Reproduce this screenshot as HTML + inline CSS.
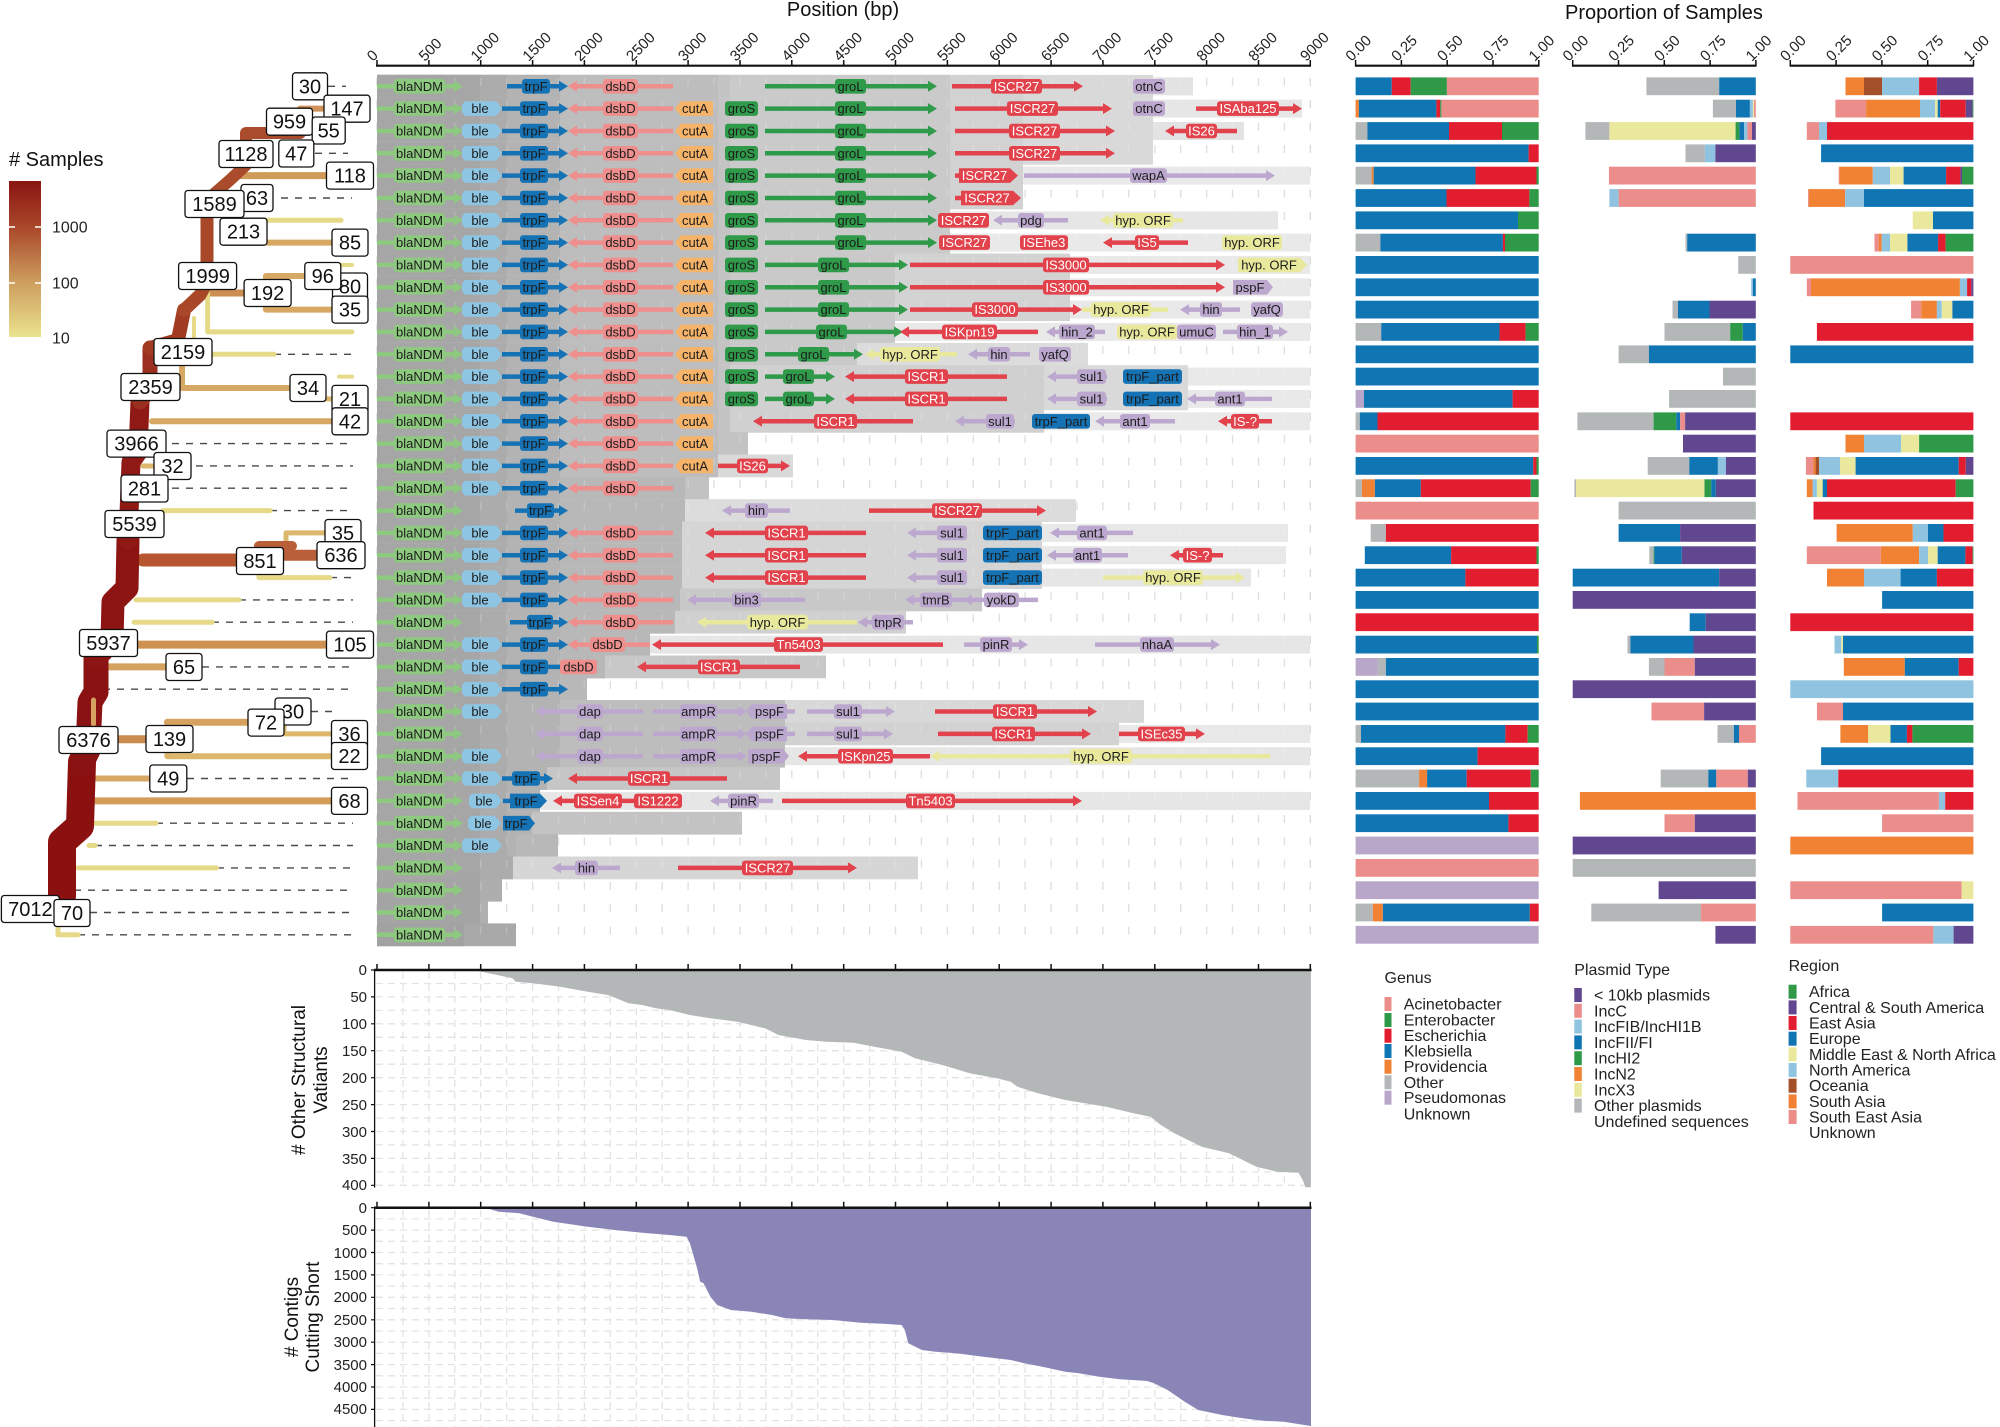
<!DOCTYPE html>
<html><head><meta charset="utf-8"><title>blaNDM structural variants</title>
<style>
html,body{margin:0;padding:0;background:#fff}
svg{display:block;font-family:"Liberation Sans",Arial,sans-serif}
.gn path{fill:none;stroke:currentColor;stroke-width:4.5}
.gn polygon,.gn rect{fill:currentColor;stroke:none}
.gn text{font-size:13px;text-anchor:middle;fill:#1c1c1c}
.gn .cr text{fill:#fff}
.cg{color:#8DC97F}.cb{color:#8EC5E3}.ct{color:#1573B5}.cd{color:#EE8F8D}.cc{color:#F6B46B}
.cG{color:#2F9A49}.cr{color:#E2424B}.cy{color:#E9E99D}.cp{color:#BCA8CE}
.kA{fill:#EB8D8B}.kE{fill:#2E9A48}.kR{fill:#E31D30}.kB{fill:#0F75B3}.kO{fill:#F18133}
.kG{fill:#B4B7B8}.kP{fill:#B9A7CA}.kV{fill:#61478F}.kL{fill:#8FC3DF}.kY{fill:#E9E89C}.kN{fill:#A34F2A}
.bars rect{height:17.8px}
.tb rect{fill:#fff;stroke:#111;stroke-width:1.3}
.tb text{font-size:20px;text-anchor:middle;fill:#111}
.tk text{font-size:15px;fill:#222}
.lg text{font-size:16px;fill:#222}
.tr path{fill:none;stroke-linecap:round;stroke-linejoin:round}
.ds path{fill:none;stroke:#4a4a4a;stroke-width:1.4;stroke-dasharray:7 7}
</style></head>
<body>
<svg width="2000" height="1427" viewBox="0 0 2000 1427" xmlns="http://www.w3.org/2000/svg">
<defs>
<linearGradient id="cbar" x1="0" y1="0" x2="0" y2="1">
<stop offset="0" stop-color="#8A1512"/><stop offset="0.3" stop-color="#A9482A"/><stop offset="0.65" stop-color="#CE9E5E"/><stop offset="1" stop-color="#EAE38E"/>
</linearGradient>
</defs>

<!-- Titles -->
<text x="843" y="16" font-size="20" text-anchor="middle" fill="#111">Position (bp)</text>
<text x="1664" y="19" font-size="20" text-anchor="middle" fill="#111">Proportion of Samples</text>

<!-- Gene panel gridlines (under) -->
<path stroke="#D8D8D8" stroke-width="1.3" stroke-dasharray="8 14.33" fill="none" d="M377 78V945M402.9 78V945M428.9 78V945M454.8 78V945M480.7 78V945M506.6 78V945M532.6 78V945M558.5 78V945M584.4 78V945M610.3 78V945M636.3 78V945M662.2 78V945M688.1 78V945M714 78V945M740 78V945M765.9 78V945M791.8 78V945M817.7 78V945M843.7 78V945M869.6 78V945M895.5 78V945M921.4 78V945M947.4 78V945M973.3 78V945M999.2 78V945M1025.1 78V945M1051.1 78V945M1077 78V945M1102.9 78V945M1128.8 78V945M1154.8 78V945M1180.7 78V945M1206.6 78V945M1232.5 78V945M1258.5 78V945M1284.4 78V945M1310.3 78V945"/>

<!-- Row backgrounds -->
<g>
<g transform="translate(0,86.3)"><rect x="377" y="-9" width="816" height="18" fill="#E3E3E3"/><rect x="377" y="-11.4" width="776" height="22.8" fill="#D9D9D9"/><rect x="377" y="-11.4" width="646" height="22.8" fill="#D2D2D2"/><rect x="377" y="-11.4" width="573" height="22.8" fill="#CACACA"/><rect x="377" y="-11.4" width="353" height="22.8" fill="#C4C4C4"/><rect x="377" y="-11.4" width="341" height="22.8" fill="#BDBDBD"/><rect x="377" y="-11.4" width="183" height="22.8" fill="#B3B3B3"/><rect x="377" y="-11.4" width="130" height="22.8" fill="#ACACAC"/><rect x="377" y="-11.4" width="103" height="22.8" fill="#A6A6A6"/></g>
<g transform="translate(0,108.6)"><rect x="377" y="-9" width="925" height="18" fill="#E6E6E6"/><rect x="377" y="-11.4" width="776" height="22.8" fill="#D9D9D9"/><rect x="377" y="-11.4" width="646" height="22.8" fill="#D2D2D2"/><rect x="377" y="-11.4" width="573" height="22.8" fill="#CACACA"/><rect x="377" y="-11.4" width="353" height="22.8" fill="#C4C4C4"/><rect x="377" y="-11.4" width="341" height="22.8" fill="#BDBDBD"/><rect x="377" y="-11.4" width="183" height="22.8" fill="#B3B3B3"/><rect x="377" y="-11.4" width="130" height="22.8" fill="#ACACAC"/><rect x="377" y="-11.4" width="103" height="22.8" fill="#A6A6A6"/></g>
<g transform="translate(0,131)"><rect x="377" y="-9" width="867" height="18" fill="#E3E3E3"/><rect x="377" y="-11.4" width="776" height="22.8" fill="#D9D9D9"/><rect x="377" y="-11.4" width="646" height="22.8" fill="#D2D2D2"/><rect x="377" y="-11.4" width="573" height="22.8" fill="#CACACA"/><rect x="377" y="-11.4" width="353" height="22.8" fill="#C4C4C4"/><rect x="377" y="-11.4" width="341" height="22.8" fill="#BDBDBD"/><rect x="377" y="-11.4" width="183" height="22.8" fill="#B3B3B3"/><rect x="377" y="-11.4" width="130" height="22.8" fill="#ACACAC"/><rect x="377" y="-11.4" width="103" height="22.8" fill="#A6A6A6"/></g>
<g transform="translate(0,153.3)"><rect x="377" y="-11.4" width="776" height="22.8" fill="#D9D9D9"/><rect x="377" y="-11.4" width="646" height="22.8" fill="#D2D2D2"/><rect x="377" y="-11.4" width="573" height="22.8" fill="#CACACA"/><rect x="377" y="-11.4" width="353" height="22.8" fill="#C4C4C4"/><rect x="377" y="-11.4" width="341" height="22.8" fill="#BDBDBD"/><rect x="377" y="-11.4" width="183" height="22.8" fill="#B3B3B3"/><rect x="377" y="-11.4" width="130" height="22.8" fill="#ACACAC"/><rect x="377" y="-11.4" width="103" height="22.8" fill="#A6A6A6"/></g>
<g transform="translate(0,175.6)"><rect x="377" y="-9" width="933" height="18" fill="#E9E9E9"/><rect x="377" y="-11.4" width="646" height="22.8" fill="#D2D2D2"/><rect x="377" y="-11.4" width="573" height="22.8" fill="#CACACA"/><rect x="377" y="-11.4" width="353" height="22.8" fill="#C4C4C4"/><rect x="377" y="-11.4" width="341" height="22.8" fill="#BDBDBD"/><rect x="377" y="-11.4" width="183" height="22.8" fill="#B3B3B3"/><rect x="377" y="-11.4" width="130" height="22.8" fill="#ACACAC"/><rect x="377" y="-11.4" width="103" height="22.8" fill="#A6A6A6"/></g>
<g transform="translate(0,198)"><rect x="377" y="-11.4" width="646" height="22.8" fill="#D2D2D2"/><rect x="377" y="-11.4" width="573" height="22.8" fill="#CACACA"/><rect x="377" y="-11.4" width="353" height="22.8" fill="#C4C4C4"/><rect x="377" y="-11.4" width="341" height="22.8" fill="#BDBDBD"/><rect x="377" y="-11.4" width="183" height="22.8" fill="#B3B3B3"/><rect x="377" y="-11.4" width="130" height="22.8" fill="#ACACAC"/><rect x="377" y="-11.4" width="103" height="22.8" fill="#A6A6A6"/></g>
<g transform="translate(0,220.3)"><rect x="377" y="-9" width="901" height="18" fill="#E6E6E6"/><rect x="377" y="-11.4" width="573" height="22.8" fill="#CACACA"/><rect x="377" y="-11.4" width="353" height="22.8" fill="#C4C4C4"/><rect x="377" y="-11.4" width="341" height="22.8" fill="#BDBDBD"/><rect x="377" y="-11.4" width="183" height="22.8" fill="#B3B3B3"/><rect x="377" y="-11.4" width="130" height="22.8" fill="#ACACAC"/><rect x="377" y="-11.4" width="103" height="22.8" fill="#A6A6A6"/></g>
<g transform="translate(0,242.6)"><rect x="377" y="-9" width="933" height="18" fill="#E9E9E9"/><rect x="377" y="-11.4" width="573" height="22.8" fill="#CACACA"/><rect x="377" y="-11.4" width="353" height="22.8" fill="#C4C4C4"/><rect x="377" y="-11.4" width="341" height="22.8" fill="#BDBDBD"/><rect x="377" y="-11.4" width="183" height="22.8" fill="#B3B3B3"/><rect x="377" y="-11.4" width="130" height="22.8" fill="#ACACAC"/><rect x="377" y="-11.4" width="103" height="22.8" fill="#A6A6A6"/></g>
<g transform="translate(0,264.9)"><rect x="377" y="-9" width="933" height="18" fill="#E9E9E9"/><rect x="377" y="-11.4" width="693" height="22.8" fill="#D3D3D3"/><rect x="377" y="-11.4" width="518" height="22.8" fill="#C9C9C9"/><rect x="377" y="-11.4" width="353" height="22.8" fill="#C4C4C4"/><rect x="377" y="-11.4" width="341" height="22.8" fill="#BDBDBD"/><rect x="377" y="-11.4" width="183" height="22.8" fill="#B3B3B3"/><rect x="377" y="-11.4" width="130" height="22.8" fill="#ACACAC"/><rect x="377" y="-11.4" width="103" height="22.8" fill="#A6A6A6"/></g>
<g transform="translate(0,287.3)"><rect x="377" y="-9" width="933" height="18" fill="#E9E9E9"/><rect x="377" y="-11.4" width="693" height="22.8" fill="#D3D3D3"/><rect x="377" y="-11.4" width="518" height="22.8" fill="#C9C9C9"/><rect x="377" y="-11.4" width="353" height="22.8" fill="#C4C4C4"/><rect x="377" y="-11.4" width="341" height="22.8" fill="#BDBDBD"/><rect x="377" y="-11.4" width="183" height="22.8" fill="#B3B3B3"/><rect x="377" y="-11.4" width="130" height="22.8" fill="#ACACAC"/><rect x="377" y="-11.4" width="103" height="22.8" fill="#A6A6A6"/></g>
<g transform="translate(0,309.6)"><rect x="377" y="-9" width="933" height="18" fill="#E9E9E9"/><rect x="377" y="-11.4" width="693" height="22.8" fill="#D3D3D3"/><rect x="377" y="-11.4" width="518" height="22.8" fill="#C9C9C9"/><rect x="377" y="-11.4" width="353" height="22.8" fill="#C4C4C4"/><rect x="377" y="-11.4" width="341" height="22.8" fill="#BDBDBD"/><rect x="377" y="-11.4" width="183" height="22.8" fill="#B3B3B3"/><rect x="377" y="-11.4" width="130" height="22.8" fill="#ACACAC"/><rect x="377" y="-11.4" width="103" height="22.8" fill="#A6A6A6"/></g>
<g transform="translate(0,331.9)"><rect x="377" y="-9" width="933" height="18" fill="#E9E9E9"/><rect x="377" y="-11.4" width="518" height="22.8" fill="#C9C9C9"/><rect x="377" y="-11.4" width="353" height="22.8" fill="#C4C4C4"/><rect x="377" y="-11.4" width="341" height="22.8" fill="#BDBDBD"/><rect x="377" y="-11.4" width="183" height="22.8" fill="#B3B3B3"/><rect x="377" y="-11.4" width="130" height="22.8" fill="#ACACAC"/><rect x="377" y="-11.4" width="103" height="22.8" fill="#A6A6A6"/></g>
<g transform="translate(0,354.3)"><rect x="377" y="-11.4" width="711" height="22.8" fill="#DCDCDC"/><rect x="377" y="-11.4" width="480" height="22.8" fill="#C9C9C9"/><rect x="377" y="-11.4" width="353" height="22.8" fill="#C4C4C4"/><rect x="377" y="-11.4" width="341" height="22.8" fill="#BDBDBD"/><rect x="377" y="-11.4" width="183" height="22.8" fill="#B3B3B3"/><rect x="377" y="-11.4" width="130" height="22.8" fill="#ACACAC"/><rect x="377" y="-11.4" width="103" height="22.8" fill="#A6A6A6"/></g>
<g transform="translate(0,376.6)"><rect x="377" y="-9" width="933" height="18" fill="#E9E9E9"/><rect x="377" y="-11.4" width="811" height="22.8" fill="#D9D9D9"/><rect x="377" y="-11.4" width="667" height="22.8" fill="#D0D0D0"/><rect x="377" y="-11.4" width="353" height="22.8" fill="#C4C4C4"/><rect x="377" y="-11.4" width="341" height="22.8" fill="#BDBDBD"/><rect x="377" y="-11.4" width="183" height="22.8" fill="#B3B3B3"/><rect x="377" y="-11.4" width="130" height="22.8" fill="#ACACAC"/><rect x="377" y="-11.4" width="103" height="22.8" fill="#A6A6A6"/></g>
<g transform="translate(0,398.9)"><rect x="377" y="-9" width="933" height="18" fill="#E9E9E9"/><rect x="377" y="-11.4" width="811" height="22.8" fill="#D9D9D9"/><rect x="377" y="-11.4" width="667" height="22.8" fill="#D0D0D0"/><rect x="377" y="-11.4" width="353" height="22.8" fill="#C4C4C4"/><rect x="377" y="-11.4" width="341" height="22.8" fill="#BDBDBD"/><rect x="377" y="-11.4" width="183" height="22.8" fill="#B3B3B3"/><rect x="377" y="-11.4" width="130" height="22.8" fill="#ACACAC"/><rect x="377" y="-11.4" width="103" height="22.8" fill="#A6A6A6"/></g>
<g transform="translate(0,421.3)"><rect x="377" y="-9" width="933" height="18" fill="#E9E9E9"/><rect x="377" y="-11.4" width="667" height="22.8" fill="#D0D0D0"/><rect x="377" y="-11.4" width="353" height="22.8" fill="#C4C4C4"/><rect x="377" y="-11.4" width="341" height="22.8" fill="#BDBDBD"/><rect x="377" y="-11.4" width="183" height="22.8" fill="#B3B3B3"/><rect x="377" y="-11.4" width="130" height="22.8" fill="#ACACAC"/><rect x="377" y="-11.4" width="103" height="22.8" fill="#A6A6A6"/></g>
<g transform="translate(0,443.6)"><rect x="377" y="-11.4" width="371" height="22.8" fill="#C3C3C3"/><rect x="377" y="-11.4" width="341" height="22.8" fill="#BDBDBD"/><rect x="377" y="-11.4" width="183" height="22.8" fill="#B3B3B3"/><rect x="377" y="-11.4" width="130" height="22.8" fill="#ACACAC"/><rect x="377" y="-11.4" width="103" height="22.8" fill="#A6A6A6"/></g>
<g transform="translate(0,465.9)"><rect x="377" y="-11.4" width="416" height="22.8" fill="#D9D9D9"/><rect x="377" y="-11.4" width="341" height="22.8" fill="#BDBDBD"/><rect x="377" y="-11.4" width="183" height="22.8" fill="#B3B3B3"/><rect x="377" y="-11.4" width="130" height="22.8" fill="#ACACAC"/><rect x="377" y="-11.4" width="103" height="22.8" fill="#A6A6A6"/></g>
<g transform="translate(0,488.2)"><rect x="377" y="-11.4" width="332" height="22.8" fill="#C2C2C2"/><rect x="377" y="-11.4" width="308" height="22.8" fill="#B8B8B8"/><rect x="377" y="-11.4" width="183" height="22.8" fill="#B3B3B3"/><rect x="377" y="-11.4" width="130" height="22.8" fill="#ACACAC"/><rect x="377" y="-11.4" width="103" height="22.8" fill="#A6A6A6"/></g>
<g transform="translate(0,510.6)"><rect x="377" y="-11.4" width="699" height="22.8" fill="#DCDCDC"/><rect x="377" y="-11.4" width="308" height="22.8" fill="#B8B8B8"/><rect x="377" y="-11.4" width="183" height="22.8" fill="#B3B3B3"/><rect x="377" y="-11.4" width="130" height="22.8" fill="#ACACAC"/><rect x="377" y="-11.4" width="103" height="22.8" fill="#A6A6A6"/></g>
<g transform="translate(0,532.9)"><rect x="377" y="-9" width="911" height="18" fill="#E8E8E8"/><rect x="377" y="-11.4" width="665" height="22.8" fill="#D5D5D5"/><rect x="377" y="-11.4" width="305" height="22.8" fill="#B8B8B8"/><rect x="377" y="-11.4" width="183" height="22.8" fill="#B3B3B3"/><rect x="377" y="-11.4" width="130" height="22.8" fill="#ACACAC"/><rect x="377" y="-11.4" width="103" height="22.8" fill="#A6A6A6"/></g>
<g transform="translate(0,555.2)"><rect x="377" y="-9" width="909" height="18" fill="#E8E8E8"/><rect x="377" y="-11.4" width="665" height="22.8" fill="#D5D5D5"/><rect x="377" y="-11.4" width="305" height="22.8" fill="#B8B8B8"/><rect x="377" y="-11.4" width="183" height="22.8" fill="#B3B3B3"/><rect x="377" y="-11.4" width="130" height="22.8" fill="#ACACAC"/><rect x="377" y="-11.4" width="103" height="22.8" fill="#A6A6A6"/></g>
<g transform="translate(0,577.6)"><rect x="377" y="-9" width="874" height="18" fill="#E6E6E6"/><rect x="377" y="-11.4" width="665" height="22.8" fill="#D5D5D5"/><rect x="377" y="-11.4" width="305" height="22.8" fill="#B8B8B8"/><rect x="377" y="-11.4" width="183" height="22.8" fill="#B3B3B3"/><rect x="377" y="-11.4" width="130" height="22.8" fill="#ACACAC"/><rect x="377" y="-11.4" width="103" height="22.8" fill="#A6A6A6"/></g>
<g transform="translate(0,599.9)"><rect x="377" y="-11.4" width="605" height="22.8" fill="#C8C8C8"/><rect x="377" y="-11.4" width="303" height="22.8" fill="#B8B8B8"/><rect x="377" y="-11.4" width="183" height="22.8" fill="#B3B3B3"/><rect x="377" y="-11.4" width="130" height="22.8" fill="#ACACAC"/><rect x="377" y="-11.4" width="103" height="22.8" fill="#A6A6A6"/></g>
<g transform="translate(0,622.2)"><rect x="377" y="-11.4" width="529" height="22.8" fill="#D0D0D0"/><rect x="377" y="-11.4" width="298" height="22.8" fill="#B8B8B8"/><rect x="377" y="-11.4" width="183" height="22.8" fill="#B3B3B3"/><rect x="377" y="-11.4" width="130" height="22.8" fill="#ACACAC"/><rect x="377" y="-11.4" width="103" height="22.8" fill="#A6A6A6"/></g>
<g transform="translate(0,644.6)"><rect x="377" y="-9" width="933" height="18" fill="#E6E6E6"/><rect x="377" y="-11.4" width="273" height="22.8" fill="#B8B8B8"/><rect x="377" y="-11.4" width="183" height="22.8" fill="#B3B3B3"/><rect x="377" y="-11.4" width="130" height="22.8" fill="#ACACAC"/><rect x="377" y="-11.4" width="103" height="22.8" fill="#A6A6A6"/></g>
<g transform="translate(0,666.9)"><rect x="377" y="-11.4" width="449" height="22.8" fill="#C8C8C8"/><rect x="377" y="-11.4" width="228" height="22.8" fill="#B8B8B8"/><rect x="377" y="-11.4" width="183" height="22.8" fill="#B3B3B3"/><rect x="377" y="-11.4" width="130" height="22.8" fill="#ACACAC"/><rect x="377" y="-11.4" width="103" height="22.8" fill="#A6A6A6"/></g>
<g transform="translate(0,689.2)"><rect x="377" y="-11.4" width="210" height="22.8" fill="#B8B8B8"/><rect x="377" y="-11.4" width="183" height="22.8" fill="#B3B3B3"/><rect x="377" y="-11.4" width="130" height="22.8" fill="#ACACAC"/><rect x="377" y="-11.4" width="103" height="22.8" fill="#A6A6A6"/></g>
<g transform="translate(0,711.5)"><rect x="377" y="-11.4" width="767" height="22.8" fill="#D8D8D8"/><rect x="377" y="-11.4" width="408" height="22.8" fill="#BDBDBD"/><rect x="377" y="-11.4" width="183" height="22.8" fill="#B3B3B3"/><rect x="377" y="-11.4" width="130" height="22.8" fill="#ACACAC"/><rect x="377" y="-11.4" width="103" height="22.8" fill="#A6A6A6"/></g>
<g transform="translate(0,733.9)"><rect x="377" y="-9" width="933" height="18" fill="#E8E8E8"/><rect x="377" y="-11.4" width="742" height="22.8" fill="#D2D2D2"/><rect x="377" y="-11.4" width="408" height="22.8" fill="#BDBDBD"/><rect x="377" y="-11.4" width="183" height="22.8" fill="#B3B3B3"/><rect x="377" y="-11.4" width="130" height="22.8" fill="#ACACAC"/><rect x="377" y="-11.4" width="103" height="22.8" fill="#A6A6A6"/></g>
<g transform="translate(0,756.2)"><rect x="377" y="-9" width="933" height="18" fill="#E6E6E6"/><rect x="377" y="-11.4" width="408" height="22.8" fill="#BDBDBD"/><rect x="377" y="-11.4" width="183" height="22.8" fill="#B3B3B3"/><rect x="377" y="-11.4" width="130" height="22.8" fill="#ACACAC"/><rect x="377" y="-11.4" width="103" height="22.8" fill="#A6A6A6"/></g>
<g transform="translate(0,778.5)"><rect x="377" y="-11.4" width="403" height="22.8" fill="#C6C6C6"/><rect x="377" y="-11.4" width="170" height="22.8" fill="#B3B3B3"/><rect x="377" y="-11.4" width="130" height="22.8" fill="#ACACAC"/><rect x="377" y="-11.4" width="103" height="22.8" fill="#A6A6A6"/></g>
<g transform="translate(0,800.9)"><rect x="377" y="-9" width="933" height="18" fill="#E6E6E6"/><rect x="377" y="-11.4" width="163" height="22.8" fill="#B3B3B3"/><rect x="377" y="-11.4" width="130" height="22.8" fill="#ACACAC"/><rect x="377" y="-11.4" width="103" height="22.8" fill="#A6A6A6"/></g>
<g transform="translate(0,823.2)"><rect x="377" y="-11.4" width="365" height="22.8" fill="#C3C3C3"/><rect x="377" y="-11.4" width="155" height="22.8" fill="#B3B3B3"/><rect x="377" y="-11.4" width="130" height="22.8" fill="#ACACAC"/><rect x="377" y="-11.4" width="103" height="22.8" fill="#A6A6A6"/></g>
<g transform="translate(0,845.5)"><rect x="377" y="-11.4" width="181" height="22.8" fill="#B8B8B8"/><rect x="377" y="-11.4" width="139" height="22.8" fill="#B3B3B3"/><rect x="377" y="-11.4" width="130" height="22.8" fill="#ACACAC"/><rect x="377" y="-11.4" width="103" height="22.8" fill="#A6A6A6"/></g>
<g transform="translate(0,867.9)"><rect x="377" y="-11.4" width="541" height="22.8" fill="#D6D6D6"/><rect x="377" y="-11.4" width="136" height="22.8" fill="#ACACAC"/><rect x="377" y="-11.4" width="103" height="22.8" fill="#A6A6A6"/></g>
<g transform="translate(0,890.2)"><rect x="377" y="-11.4" width="125" height="22.8" fill="#AEAEAE"/><rect x="377" y="-11.4" width="103" height="22.8" fill="#A4A4A4"/></g>
<g transform="translate(0,912.5)"><rect x="377" y="-11.4" width="111" height="22.8" fill="#B0B0B0"/><rect x="377" y="-11.4" width="103" height="22.8" fill="#A4A4A4"/></g>
<g transform="translate(0,934.8)"><rect x="377" y="-11.4" width="139" height="22.8" fill="#A9A9A9"/><rect x="377" y="-11.4" width="87" height="22.8" fill="#A2A2A2"/></g>
</g>

<!-- Gridlines overlay on grey -->
<path stroke="#ffffff" stroke-opacity="0.2" stroke-width="1.3" stroke-dasharray="8 14.33" fill="none" d="M402.9 78V945M428.9 78V945M454.8 78V945M480.7 78V945M506.6 78V945M532.6 78V945M558.5 78V945M584.4 78V945M610.3 78V945M636.3 78V945M662.2 78V945M688.1 78V945M714 78V945M740 78V945M765.9 78V945M791.8 78V945M817.7 78V945M843.7 78V945M869.6 78V945M895.5 78V945M921.4 78V945M947.4 78V945M973.3 78V945M999.2 78V945M1025.1 78V945M1051.1 78V945M1077 78V945M1102.9 78V945M1128.8 78V945M1154.8 78V945M1180.7 78V945M1206.6 78V945M1232.5 78V945M1258.5 78V945M1284.4 78V945"/>

<!-- Gene axis -->
<g stroke="#111" fill="none">
<path stroke-width="2.2" d="M376 65.7H1311"/>
<path stroke-width="1.5" d="M377 60V66M428.9 60V66M480.7 60V66M532.6 60V66M584.4 60V66M636.3 60V66M688.1 60V66M740 60V66M791.8 60V66M843.7 60V66M895.5 60V66M947.4 60V66M999.2 60V66M1051.1 60V66M1102.9 60V66M1154.8 60V66M1206.6 60V66M1258.5 60V66M1310.3 60V66"/>
</g>
<g class="tk">
<text transform="translate(373,62) rotate(-45)">0</text>
<text transform="translate(424.9,62) rotate(-45)">500</text>
<text transform="translate(476.7,62) rotate(-45)">1000</text>
<text transform="translate(528.6,62) rotate(-45)">1500</text>
<text transform="translate(580.4,62) rotate(-45)">2000</text>
<text transform="translate(632.3,62) rotate(-45)">2500</text>
<text transform="translate(684.1,62) rotate(-45)">3000</text>
<text transform="translate(736,62) rotate(-45)">3500</text>
<text transform="translate(787.8,62) rotate(-45)">4000</text>
<text transform="translate(839.7,62) rotate(-45)">4500</text>
<text transform="translate(891.5,62) rotate(-45)">5000</text>
<text transform="translate(943.4,62) rotate(-45)">5500</text>
<text transform="translate(995.2,62) rotate(-45)">6000</text>
<text transform="translate(1047.1,62) rotate(-45)">6500</text>
<text transform="translate(1098.9,62) rotate(-45)">7000</text>
<text transform="translate(1150.8,62) rotate(-45)">7500</text>
<text transform="translate(1202.6,62) rotate(-45)">8000</text>
<text transform="translate(1254.5,62) rotate(-45)">8500</text>
<text transform="translate(1306.3,62) rotate(-45)">9000</text>
</g>

<!-- Genes -->
<g class="gn">
<!-- row 0 -->
<g transform="translate(0,86.3)">
<g class="cg"><path d="M377 0H455"/><polygon points="454,-5.5 463,0 454,5.5"/><rect x="394" y="-7.3" width="51" height="14.6" rx="3"/><text x="419.5" y="4.6">blaNDM</text></g>
<g class="ct"><path d="M507 0H560"/><polygon points="559,-5.5 568,0 559,5.5"/><rect x="522" y="-7.3" width="28" height="14.6" rx="3"/><text x="536" y="4.6">trpF</text></g>
<g class="cd"><path d="M575 0H673"/><polygon points="577,-5.5 568,0 577,5.5"/><rect x="603" y="-7.3" width="35" height="14.6" rx="3"/><text x="620.5" y="4.6">dsbD</text></g>
<g class="cG"><path d="M765 0H929"/><polygon points="928,-5.5 937,0 928,5.5"/><rect x="835" y="-7.3" width="31" height="14.6" rx="3"/><text x="850.5" y="4.6">groL</text></g>
<g class="cr"><path d="M952 0H1076"/><polygon points="1074,-5.5 1083,0 1074,5.5"/><rect x="991" y="-7.3" width="51" height="14.6" rx="3"/><text x="1016.5" y="4.6">ISCR27</text></g>
<g class="cp"><rect x="1133" y="-7.3" width="32" height="14.6" rx="3"/><text x="1149" y="4.6">otnC</text></g>
</g>
<!-- row 1 -->
<g transform="translate(0,108.6)">
<g class="cg"><path d="M377 0H455"/><polygon points="454,-5.5 463,0 454,5.5"/><rect x="394" y="-7.3" width="51" height="14.6" rx="3"/><text x="419.5" y="4.6">blaNDM</text></g>
<g class="cb"><polygon points="465,-7.3 496,-7.3 502,0 496,7.3 465,7.3 462,4 462,-4"/><text x="480" y="4.6">ble</text></g>
<g class="ct"><path d="M502 0H560"/><polygon points="559,-5.5 568,0 559,5.5"/><rect x="520" y="-7.3" width="28" height="14.6" rx="3"/><text x="534" y="4.6">trpF</text></g>
<g class="cd"><path d="M575 0H673"/><polygon points="577,-5.5 568,0 577,5.5"/><rect x="603" y="-7.3" width="35" height="14.6" rx="3"/><text x="620.5" y="4.6">dsbD</text></g>
<g class="cc"><polygon points="681,-7.3 713,-7.3 713,7.3 681,7.3 675,0"/><text x="695" y="4.6">cutA</text></g>
<g class="cG"><rect x="725" y="-7.3" width="33" height="14.6" rx="3"/><text x="741.5" y="4.6">groS</text></g>
<g class="cG"><path d="M765 0H929"/><polygon points="928,-5.5 937,0 928,5.5"/><rect x="835" y="-7.3" width="31" height="14.6" rx="3"/><text x="850.5" y="4.6">groL</text></g>
<g class="cr"><path d="M955 0H1105"/><polygon points="1103,-5.5 1112,0 1103,5.5"/><rect x="1007" y="-7.3" width="51" height="14.6" rx="3"/><text x="1032.5" y="4.6">ISCR27</text></g>
<g class="cp"><rect x="1133" y="-7.3" width="32" height="14.6" rx="3"/><text x="1149" y="4.6">otnC</text></g>
<g class="cr"><path d="M1196 0H1295"/><polygon points="1293,-5.5 1302,0 1293,5.5"/><rect x="1217" y="-7.3" width="62" height="14.6" rx="3"/><text x="1248" y="4.6">ISAba125</text></g>
</g>
<!-- row 2 -->
<g transform="translate(0,131)">
<g class="cg"><path d="M377 0H455"/><polygon points="454,-5.5 463,0 454,5.5"/><rect x="394" y="-7.3" width="51" height="14.6" rx="3"/><text x="419.5" y="4.6">blaNDM</text></g>
<g class="cb"><polygon points="465,-7.3 496,-7.3 502,0 496,7.3 465,7.3 462,4 462,-4"/><text x="480" y="4.6">ble</text></g>
<g class="ct"><path d="M502 0H560"/><polygon points="559,-5.5 568,0 559,5.5"/><rect x="520" y="-7.3" width="28" height="14.6" rx="3"/><text x="534" y="4.6">trpF</text></g>
<g class="cd"><path d="M575 0H673"/><polygon points="577,-5.5 568,0 577,5.5"/><rect x="603" y="-7.3" width="35" height="14.6" rx="3"/><text x="620.5" y="4.6">dsbD</text></g>
<g class="cc"><polygon points="681,-7.3 713,-7.3 713,7.3 681,7.3 675,0"/><text x="695" y="4.6">cutA</text></g>
<g class="cG"><rect x="725" y="-7.3" width="33" height="14.6" rx="3"/><text x="741.5" y="4.6">groS</text></g>
<g class="cG"><path d="M765 0H929"/><polygon points="928,-5.5 937,0 928,5.5"/><rect x="835" y="-7.3" width="31" height="14.6" rx="3"/><text x="850.5" y="4.6">groL</text></g>
<g class="cr"><path d="M955 0H1108"/><polygon points="1106,-5.5 1115,0 1106,5.5"/><rect x="1009" y="-7.3" width="51" height="14.6" rx="3"/><text x="1034.5" y="4.6">ISCR27</text></g>
<g class="cr"><path d="M1172 0H1237"/><polygon points="1174,-5.5 1165,0 1174,5.5"/><rect x="1186" y="-7.3" width="31" height="14.6" rx="3"/><text x="1201.5" y="4.6">IS26</text></g>
</g>
<!-- row 3 -->
<g transform="translate(0,153.3)">
<g class="cg"><path d="M377 0H455"/><polygon points="454,-5.5 463,0 454,5.5"/><rect x="394" y="-7.3" width="51" height="14.6" rx="3"/><text x="419.5" y="4.6">blaNDM</text></g>
<g class="cb"><polygon points="465,-7.3 496,-7.3 502,0 496,7.3 465,7.3 462,4 462,-4"/><text x="480" y="4.6">ble</text></g>
<g class="ct"><path d="M502 0H560"/><polygon points="559,-5.5 568,0 559,5.5"/><rect x="520" y="-7.3" width="28" height="14.6" rx="3"/><text x="534" y="4.6">trpF</text></g>
<g class="cd"><path d="M575 0H673"/><polygon points="577,-5.5 568,0 577,5.5"/><rect x="603" y="-7.3" width="35" height="14.6" rx="3"/><text x="620.5" y="4.6">dsbD</text></g>
<g class="cc"><polygon points="681,-7.3 713,-7.3 713,7.3 681,7.3 675,0"/><text x="695" y="4.6">cutA</text></g>
<g class="cG"><rect x="725" y="-7.3" width="33" height="14.6" rx="3"/><text x="741.5" y="4.6">groS</text></g>
<g class="cG"><path d="M765 0H929"/><polygon points="928,-5.5 937,0 928,5.5"/><rect x="835" y="-7.3" width="31" height="14.6" rx="3"/><text x="850.5" y="4.6">groL</text></g>
<g class="cr"><path d="M955 0H1108"/><polygon points="1106,-5.5 1115,0 1106,5.5"/><rect x="1009" y="-7.3" width="51" height="14.6" rx="3"/><text x="1034.5" y="4.6">ISCR27</text></g>
</g>
<!-- row 4 -->
<g transform="translate(0,175.6)">
<g class="cg"><path d="M377 0H455"/><polygon points="454,-5.5 463,0 454,5.5"/><rect x="394" y="-7.3" width="51" height="14.6" rx="3"/><text x="419.5" y="4.6">blaNDM</text></g>
<g class="cb"><polygon points="465,-7.3 496,-7.3 502,0 496,7.3 465,7.3 462,4 462,-4"/><text x="480" y="4.6">ble</text></g>
<g class="ct"><path d="M502 0H560"/><polygon points="559,-5.5 568,0 559,5.5"/><rect x="520" y="-7.3" width="28" height="14.6" rx="3"/><text x="534" y="4.6">trpF</text></g>
<g class="cd"><path d="M575 0H673"/><polygon points="577,-5.5 568,0 577,5.5"/><rect x="603" y="-7.3" width="35" height="14.6" rx="3"/><text x="620.5" y="4.6">dsbD</text></g>
<g class="cc"><polygon points="681,-7.3 713,-7.3 713,7.3 681,7.3 675,0"/><text x="695" y="4.6">cutA</text></g>
<g class="cG"><rect x="725" y="-7.3" width="33" height="14.6" rx="3"/><text x="741.5" y="4.6">groS</text></g>
<g class="cG"><path d="M765 0H929"/><polygon points="928,-5.5 937,0 928,5.5"/><rect x="835" y="-7.3" width="31" height="14.6" rx="3"/><text x="850.5" y="4.6">groL</text></g>
<g class="cr"><path d="M955 0H1012"/><polygon points="959,-7.3 1010,-7.3 1018,0 1010,7.3 959,7.3"/><text x="984.5" y="4.6">ISCR27</text></g>
<g class="cp"><path d="M1024 0H1268"/><polygon points="1266,-5.5 1275,0 1266,5.5"/><rect x="1130" y="-7.3" width="37" height="14.6" rx="3"/><text x="1148.5" y="4.6">wapA</text></g>
</g>
<!-- row 5 -->
<g transform="translate(0,198)">
<g class="cg"><path d="M377 0H455"/><polygon points="454,-5.5 463,0 454,5.5"/><rect x="394" y="-7.3" width="51" height="14.6" rx="3"/><text x="419.5" y="4.6">blaNDM</text></g>
<g class="cb"><polygon points="465,-7.3 496,-7.3 502,0 496,7.3 465,7.3 462,4 462,-4"/><text x="480" y="4.6">ble</text></g>
<g class="ct"><path d="M502 0H560"/><polygon points="559,-5.5 568,0 559,5.5"/><rect x="520" y="-7.3" width="28" height="14.6" rx="3"/><text x="534" y="4.6">trpF</text></g>
<g class="cd"><path d="M575 0H673"/><polygon points="577,-5.5 568,0 577,5.5"/><rect x="603" y="-7.3" width="35" height="14.6" rx="3"/><text x="620.5" y="4.6">dsbD</text></g>
<g class="cc"><polygon points="681,-7.3 713,-7.3 713,7.3 681,7.3 675,0"/><text x="695" y="4.6">cutA</text></g>
<g class="cG"><rect x="725" y="-7.3" width="33" height="14.6" rx="3"/><text x="741.5" y="4.6">groS</text></g>
<g class="cG"><path d="M765 0H929"/><polygon points="928,-5.5 937,0 928,5.5"/><rect x="835" y="-7.3" width="31" height="14.6" rx="3"/><text x="850.5" y="4.6">groL</text></g>
<g class="cr"><path d="M955 0H1015"/><polygon points="961,-7.3 1013,-7.3 1021,0 1013,7.3 961,7.3"/><text x="987" y="4.6">ISCR27</text></g>
</g>
<!-- row 6 -->
<g transform="translate(0,220.3)">
<g class="cg"><path d="M377 0H455"/><polygon points="454,-5.5 463,0 454,5.5"/><rect x="394" y="-7.3" width="51" height="14.6" rx="3"/><text x="419.5" y="4.6">blaNDM</text></g>
<g class="cb"><polygon points="465,-7.3 496,-7.3 502,0 496,7.3 465,7.3 462,4 462,-4"/><text x="480" y="4.6">ble</text></g>
<g class="ct"><path d="M502 0H560"/><polygon points="559,-5.5 568,0 559,5.5"/><rect x="520" y="-7.3" width="28" height="14.6" rx="3"/><text x="534" y="4.6">trpF</text></g>
<g class="cd"><path d="M575 0H673"/><polygon points="577,-5.5 568,0 577,5.5"/><rect x="603" y="-7.3" width="35" height="14.6" rx="3"/><text x="620.5" y="4.6">dsbD</text></g>
<g class="cc"><polygon points="681,-7.3 713,-7.3 713,7.3 681,7.3 675,0"/><text x="695" y="4.6">cutA</text></g>
<g class="cG"><rect x="725" y="-7.3" width="33" height="14.6" rx="3"/><text x="741.5" y="4.6">groS</text></g>
<g class="cG"><path d="M765 0H929"/><polygon points="928,-5.5 937,0 928,5.5"/><rect x="835" y="-7.3" width="31" height="14.6" rx="3"/><text x="850.5" y="4.6">groL</text></g>
<g class="cr"><rect x="938" y="-7.3" width="51" height="14.6" rx="3"/><text x="963.5" y="4.6">ISCR27</text></g>
<g class="cp"><path d="M1000 0H1068"/><polygon points="1002,-5.5 993,0 1002,5.5"/><rect x="1018" y="-7.3" width="26" height="14.6" rx="3"/><text x="1031" y="4.6">pdg</text></g>
<g class="cy"><path d="M1107 0H1183"/><polygon points="1109,-5.5 1100,0 1109,5.5"/><rect x="1113" y="-7.3" width="60" height="14.6" rx="3"/><text x="1143" y="4.6">hyp. ORF</text></g>
</g>
<!-- row 7 -->
<g transform="translate(0,242.6)">
<g class="cg"><path d="M377 0H455"/><polygon points="454,-5.5 463,0 454,5.5"/><rect x="394" y="-7.3" width="51" height="14.6" rx="3"/><text x="419.5" y="4.6">blaNDM</text></g>
<g class="cb"><polygon points="465,-7.3 496,-7.3 502,0 496,7.3 465,7.3 462,4 462,-4"/><text x="480" y="4.6">ble</text></g>
<g class="ct"><path d="M502 0H560"/><polygon points="559,-5.5 568,0 559,5.5"/><rect x="520" y="-7.3" width="28" height="14.6" rx="3"/><text x="534" y="4.6">trpF</text></g>
<g class="cd"><path d="M575 0H673"/><polygon points="577,-5.5 568,0 577,5.5"/><rect x="603" y="-7.3" width="35" height="14.6" rx="3"/><text x="620.5" y="4.6">dsbD</text></g>
<g class="cc"><polygon points="681,-7.3 713,-7.3 713,7.3 681,7.3 675,0"/><text x="695" y="4.6">cutA</text></g>
<g class="cG"><rect x="725" y="-7.3" width="33" height="14.6" rx="3"/><text x="741.5" y="4.6">groS</text></g>
<g class="cG"><path d="M765 0H929"/><polygon points="928,-5.5 937,0 928,5.5"/><rect x="835" y="-7.3" width="31" height="14.6" rx="3"/><text x="850.5" y="4.6">groL</text></g>
<g class="cr"><rect x="939" y="-7.3" width="51" height="14.6" rx="3"/><text x="964.5" y="4.6">ISCR27</text></g>
<g class="cr"><rect x="1020" y="-7.3" width="48" height="14.6" rx="3"/><text x="1044" y="4.6">ISEhe3</text></g>
<g class="cr"><path d="M1110 0H1188"/><polygon points="1112,-5.5 1103,0 1112,5.5"/><rect x="1135" y="-7.3" width="24" height="14.6" rx="3"/><text x="1147" y="4.6">IS5</text></g>
<g class="cy"><rect x="1222" y="-7.3" width="60" height="14.6" rx="3"/><text x="1252" y="4.6">hyp. ORF</text></g>
</g>
<!-- row 8 -->
<g transform="translate(0,264.9)">
<g class="cg"><path d="M377 0H455"/><polygon points="454,-5.5 463,0 454,5.5"/><rect x="394" y="-7.3" width="51" height="14.6" rx="3"/><text x="419.5" y="4.6">blaNDM</text></g>
<g class="cb"><polygon points="465,-7.3 496,-7.3 502,0 496,7.3 465,7.3 462,4 462,-4"/><text x="480" y="4.6">ble</text></g>
<g class="ct"><path d="M502 0H560"/><polygon points="559,-5.5 568,0 559,5.5"/><rect x="520" y="-7.3" width="28" height="14.6" rx="3"/><text x="534" y="4.6">trpF</text></g>
<g class="cd"><path d="M575 0H673"/><polygon points="577,-5.5 568,0 577,5.5"/><rect x="603" y="-7.3" width="35" height="14.6" rx="3"/><text x="620.5" y="4.6">dsbD</text></g>
<g class="cc"><polygon points="681,-7.3 713,-7.3 713,7.3 681,7.3 675,0"/><text x="695" y="4.6">cutA</text></g>
<g class="cG"><rect x="725" y="-7.3" width="33" height="14.6" rx="3"/><text x="741.5" y="4.6">groS</text></g>
<g class="cG"><path d="M765 0H900"/><polygon points="899,-5.5 908,0 899,5.5"/><rect x="818" y="-7.3" width="31" height="14.6" rx="3"/><text x="833.5" y="4.6">groL</text></g>
<g class="cr"><path d="M910 0H1217"/><polygon points="1216,-5.5 1225,0 1216,5.5"/><rect x="1043" y="-7.3" width="46" height="14.6" rx="3"/><text x="1066" y="4.6">IS3000</text></g>
<g class="cy"><polygon points="1238,-7.3 1300,-7.3 1307,0 1300,7.3 1238,7.3"/><text x="1269" y="4.6">hyp. ORF</text></g>
</g>
<!-- row 9 -->
<g transform="translate(0,287.3)">
<g class="cg"><path d="M377 0H455"/><polygon points="454,-5.5 463,0 454,5.5"/><rect x="394" y="-7.3" width="51" height="14.6" rx="3"/><text x="419.5" y="4.6">blaNDM</text></g>
<g class="cb"><polygon points="465,-7.3 496,-7.3 502,0 496,7.3 465,7.3 462,4 462,-4"/><text x="480" y="4.6">ble</text></g>
<g class="ct"><path d="M502 0H560"/><polygon points="559,-5.5 568,0 559,5.5"/><rect x="520" y="-7.3" width="28" height="14.6" rx="3"/><text x="534" y="4.6">trpF</text></g>
<g class="cd"><path d="M575 0H673"/><polygon points="577,-5.5 568,0 577,5.5"/><rect x="603" y="-7.3" width="35" height="14.6" rx="3"/><text x="620.5" y="4.6">dsbD</text></g>
<g class="cc"><polygon points="681,-7.3 713,-7.3 713,7.3 681,7.3 675,0"/><text x="695" y="4.6">cutA</text></g>
<g class="cG"><rect x="725" y="-7.3" width="33" height="14.6" rx="3"/><text x="741.5" y="4.6">groS</text></g>
<g class="cG"><path d="M765 0H900"/><polygon points="899,-5.5 908,0 899,5.5"/><rect x="818" y="-7.3" width="31" height="14.6" rx="3"/><text x="833.5" y="4.6">groL</text></g>
<g class="cr"><path d="M910 0H1217"/><polygon points="1216,-5.5 1225,0 1216,5.5"/><rect x="1043" y="-7.3" width="46" height="14.6" rx="3"/><text x="1066" y="4.6">IS3000</text></g>
<g class="cp"><polygon points="1233,-7.3 1267,-7.3 1273,0 1267,7.3 1233,7.3"/><text x="1250" y="4.6">pspF</text></g>
</g>
<!-- row 10 -->
<g transform="translate(0,309.6)">
<g class="cg"><path d="M377 0H455"/><polygon points="454,-5.5 463,0 454,5.5"/><rect x="394" y="-7.3" width="51" height="14.6" rx="3"/><text x="419.5" y="4.6">blaNDM</text></g>
<g class="cb"><polygon points="465,-7.3 496,-7.3 502,0 496,7.3 465,7.3 462,4 462,-4"/><text x="480" y="4.6">ble</text></g>
<g class="ct"><path d="M502 0H560"/><polygon points="559,-5.5 568,0 559,5.5"/><rect x="520" y="-7.3" width="28" height="14.6" rx="3"/><text x="534" y="4.6">trpF</text></g>
<g class="cd"><path d="M575 0H673"/><polygon points="577,-5.5 568,0 577,5.5"/><rect x="603" y="-7.3" width="35" height="14.6" rx="3"/><text x="620.5" y="4.6">dsbD</text></g>
<g class="cc"><polygon points="681,-7.3 713,-7.3 713,7.3 681,7.3 675,0"/><text x="695" y="4.6">cutA</text></g>
<g class="cG"><rect x="725" y="-7.3" width="33" height="14.6" rx="3"/><text x="741.5" y="4.6">groS</text></g>
<g class="cG"><path d="M765 0H900"/><polygon points="899,-5.5 908,0 899,5.5"/><rect x="818" y="-7.3" width="31" height="14.6" rx="3"/><text x="833.5" y="4.6">groL</text></g>
<g class="cy"><path d="M1082 0H1168"/><rect x="1091" y="-7.3" width="60" height="14.6" rx="3"/><text x="1121" y="4.6">hyp. ORF</text></g>
<g class="cr"><path d="M910 0H1074"/><polygon points="1073,-5.5 1082,0 1073,5.5"/><rect x="972" y="-7.3" width="46" height="14.6" rx="3"/><text x="995" y="4.6">IS3000</text></g>
<g class="cp"><path d="M1187 0H1240"/><polygon points="1189,-5.5 1180,0 1189,5.5"/><rect x="1200" y="-7.3" width="22" height="14.6" rx="3"/><text x="1211" y="4.6">hin</text></g>
<g class="cp"><rect x="1251" y="-7.3" width="32" height="14.6" rx="3"/><text x="1267" y="4.6">yafQ</text></g>
</g>
<!-- row 11 -->
<g transform="translate(0,331.9)">
<g class="cg"><path d="M377 0H455"/><polygon points="454,-5.5 463,0 454,5.5"/><rect x="394" y="-7.3" width="51" height="14.6" rx="3"/><text x="419.5" y="4.6">blaNDM</text></g>
<g class="cb"><polygon points="465,-7.3 496,-7.3 502,0 496,7.3 465,7.3 462,4 462,-4"/><text x="480" y="4.6">ble</text></g>
<g class="ct"><path d="M502 0H560"/><polygon points="559,-5.5 568,0 559,5.5"/><rect x="520" y="-7.3" width="28" height="14.6" rx="3"/><text x="534" y="4.6">trpF</text></g>
<g class="cd"><path d="M575 0H673"/><polygon points="577,-5.5 568,0 577,5.5"/><rect x="603" y="-7.3" width="35" height="14.6" rx="3"/><text x="620.5" y="4.6">dsbD</text></g>
<g class="cc"><polygon points="681,-7.3 713,-7.3 713,7.3 681,7.3 675,0"/><text x="695" y="4.6">cutA</text></g>
<g class="cG"><rect x="725" y="-7.3" width="33" height="14.6" rx="3"/><text x="741.5" y="4.6">groS</text></g>
<g class="cG"><path d="M765 0H895"/><polygon points="894,-5.5 903,0 894,5.5"/><rect x="816" y="-7.3" width="31" height="14.6" rx="3"/><text x="831.5" y="4.6">groL</text></g>
<g class="cr"><path d="M907 0H1038"/><polygon points="909,-5.5 900,0 909,5.5"/><rect x="942" y="-7.3" width="55" height="14.6" rx="3"/><text x="969.5" y="4.6">ISKpn19</text></g>
<g class="cp"><path d="M1053 0H1105"/><polygon points="1055,-5.5 1046,0 1055,5.5"/><rect x="1059" y="-7.3" width="36" height="14.6" rx="3"/><text x="1077" y="4.6">hin_2</text></g>
<g class="cy"><rect x="1117" y="-7.3" width="60" height="14.6" rx="3"/><text x="1147" y="4.6">hyp. ORF</text></g>
<g class="cp"><rect x="1177" y="-7.3" width="39" height="14.6" rx="3"/><text x="1196.5" y="4.6">umuC</text></g>
<g class="cp"><path d="M1223 0H1280"/><polygon points="1279,-5.5 1288,0 1279,5.5"/><rect x="1237" y="-7.3" width="36" height="14.6" rx="3"/><text x="1255" y="4.6">hin_1</text></g>
</g>
<!-- row 12 -->
<g transform="translate(0,354.3)">
<g class="cg"><path d="M377 0H455"/><polygon points="454,-5.5 463,0 454,5.5"/><rect x="394" y="-7.3" width="51" height="14.6" rx="3"/><text x="419.5" y="4.6">blaNDM</text></g>
<g class="cb"><polygon points="465,-7.3 496,-7.3 502,0 496,7.3 465,7.3 462,4 462,-4"/><text x="480" y="4.6">ble</text></g>
<g class="ct"><path d="M502 0H560"/><polygon points="559,-5.5 568,0 559,5.5"/><rect x="520" y="-7.3" width="28" height="14.6" rx="3"/><text x="534" y="4.6">trpF</text></g>
<g class="cd"><path d="M575 0H673"/><polygon points="577,-5.5 568,0 577,5.5"/><rect x="603" y="-7.3" width="35" height="14.6" rx="3"/><text x="620.5" y="4.6">dsbD</text></g>
<g class="cc"><polygon points="681,-7.3 713,-7.3 713,7.3 681,7.3 675,0"/><text x="695" y="4.6">cutA</text></g>
<g class="cG"><rect x="725" y="-7.3" width="33" height="14.6" rx="3"/><text x="741.5" y="4.6">groS</text></g>
<g class="cG"><path d="M765 0H855"/><polygon points="854,-5.5 863,0 854,5.5"/><rect x="798" y="-7.3" width="31" height="14.6" rx="3"/><text x="813.5" y="4.6">groL</text></g>
<g class="cy"><path d="M872 0H957"/><polygon points="874,-5.5 865,0 874,5.5"/><rect x="880" y="-7.3" width="60" height="14.6" rx="3"/><text x="910" y="4.6">hyp. ORF</text></g>
<g class="cp"><path d="M975 0H1030"/><polygon points="977,-5.5 968,0 977,5.5"/><rect x="988" y="-7.3" width="22" height="14.6" rx="3"/><text x="999" y="4.6">hin</text></g>
<g class="cp"><rect x="1039" y="-7.3" width="32" height="14.6" rx="3"/><text x="1055" y="4.6">yafQ</text></g>
</g>
<!-- row 13 -->
<g transform="translate(0,376.6)">
<g class="cg"><path d="M377 0H455"/><polygon points="454,-5.5 463,0 454,5.5"/><rect x="394" y="-7.3" width="51" height="14.6" rx="3"/><text x="419.5" y="4.6">blaNDM</text></g>
<g class="cb"><polygon points="465,-7.3 496,-7.3 502,0 496,7.3 465,7.3 462,4 462,-4"/><text x="480" y="4.6">ble</text></g>
<g class="ct"><path d="M502 0H560"/><polygon points="559,-5.5 568,0 559,5.5"/><rect x="520" y="-7.3" width="28" height="14.6" rx="3"/><text x="534" y="4.6">trpF</text></g>
<g class="cd"><path d="M575 0H673"/><polygon points="577,-5.5 568,0 577,5.5"/><rect x="603" y="-7.3" width="35" height="14.6" rx="3"/><text x="620.5" y="4.6">dsbD</text></g>
<g class="cc"><polygon points="681,-7.3 713,-7.3 713,7.3 681,7.3 675,0"/><text x="695" y="4.6">cutA</text></g>
<g class="cG"><rect x="725" y="-7.3" width="33" height="14.6" rx="3"/><text x="741.5" y="4.6">groS</text></g>
<g class="cG"><path d="M765 0H827"/><polygon points="826,-5.5 835,0 826,5.5"/><rect x="783" y="-7.3" width="31" height="14.6" rx="3"/><text x="798.5" y="4.6">groL</text></g>
<g class="cr"><path d="M852 0H1007"/><polygon points="854,-5.5 845,0 854,5.5"/><rect x="905" y="-7.3" width="43" height="14.6" rx="3"/><text x="926.5" y="4.6">ISCR1</text></g>
<g class="cp"><path d="M1054 0H1107"/><polygon points="1056,-5.5 1047,0 1056,5.5"/><rect x="1077" y="-7.3" width="29" height="14.6" rx="3"/><text x="1091.5" y="4.6">sul1</text></g>
<g class="ct"><rect x="1123" y="-7.3" width="59" height="14.6" rx="3"/><text x="1152.5" y="4.6">trpF_part</text></g>
</g>
<!-- row 14 -->
<g transform="translate(0,398.9)">
<g class="cg"><path d="M377 0H455"/><polygon points="454,-5.5 463,0 454,5.5"/><rect x="394" y="-7.3" width="51" height="14.6" rx="3"/><text x="419.5" y="4.6">blaNDM</text></g>
<g class="cb"><polygon points="465,-7.3 496,-7.3 502,0 496,7.3 465,7.3 462,4 462,-4"/><text x="480" y="4.6">ble</text></g>
<g class="ct"><path d="M502 0H560"/><polygon points="559,-5.5 568,0 559,5.5"/><rect x="520" y="-7.3" width="28" height="14.6" rx="3"/><text x="534" y="4.6">trpF</text></g>
<g class="cd"><path d="M575 0H673"/><polygon points="577,-5.5 568,0 577,5.5"/><rect x="603" y="-7.3" width="35" height="14.6" rx="3"/><text x="620.5" y="4.6">dsbD</text></g>
<g class="cc"><polygon points="681,-7.3 713,-7.3 713,7.3 681,7.3 675,0"/><text x="695" y="4.6">cutA</text></g>
<g class="cG"><rect x="725" y="-7.3" width="33" height="14.6" rx="3"/><text x="741.5" y="4.6">groS</text></g>
<g class="cG"><path d="M765 0H827"/><polygon points="826,-5.5 835,0 826,5.5"/><rect x="783" y="-7.3" width="31" height="14.6" rx="3"/><text x="798.5" y="4.6">groL</text></g>
<g class="cr"><path d="M852 0H1007"/><polygon points="854,-5.5 845,0 854,5.5"/><rect x="905" y="-7.3" width="43" height="14.6" rx="3"/><text x="926.5" y="4.6">ISCR1</text></g>
<g class="cp"><path d="M1054 0H1107"/><polygon points="1056,-5.5 1047,0 1056,5.5"/><rect x="1077" y="-7.3" width="29" height="14.6" rx="3"/><text x="1091.5" y="4.6">sul1</text></g>
<g class="ct"><rect x="1123" y="-7.3" width="59" height="14.6" rx="3"/><text x="1152.5" y="4.6">trpF_part</text></g>
<g class="cp"><path d="M1194 0H1272"/><polygon points="1196,-5.5 1187,0 1196,5.5"/><rect x="1215" y="-7.3" width="30" height="14.6" rx="3"/><text x="1230" y="4.6">ant1</text></g>
</g>
<!-- row 15 -->
<g transform="translate(0,421.3)">
<g class="cg"><path d="M377 0H455"/><polygon points="454,-5.5 463,0 454,5.5"/><rect x="394" y="-7.3" width="51" height="14.6" rx="3"/><text x="419.5" y="4.6">blaNDM</text></g>
<g class="cb"><polygon points="465,-7.3 496,-7.3 502,0 496,7.3 465,7.3 462,4 462,-4"/><text x="480" y="4.6">ble</text></g>
<g class="ct"><path d="M502 0H560"/><polygon points="559,-5.5 568,0 559,5.5"/><rect x="520" y="-7.3" width="28" height="14.6" rx="3"/><text x="534" y="4.6">trpF</text></g>
<g class="cd"><path d="M575 0H673"/><polygon points="577,-5.5 568,0 577,5.5"/><rect x="603" y="-7.3" width="35" height="14.6" rx="3"/><text x="620.5" y="4.6">dsbD</text></g>
<g class="cc"><polygon points="681,-7.3 713,-7.3 713,7.3 681,7.3 675,0"/><text x="695" y="4.6">cutA</text></g>
<g class="cr"><path d="M760 0H913"/><polygon points="762,-5.5 753,0 762,5.5"/><rect x="814" y="-7.3" width="43" height="14.6" rx="3"/><text x="835.5" y="4.6">ISCR1</text></g>
<g class="cp"><path d="M962 0H1015"/><polygon points="964,-5.5 955,0 964,5.5"/><rect x="986" y="-7.3" width="28" height="14.6" rx="3"/><text x="1000" y="4.6">sul1</text></g>
<g class="ct"><rect x="1032" y="-7.3" width="58" height="14.6" rx="3"/><text x="1061" y="4.6">trpF_part</text></g>
<g class="cp"><path d="M1102 0H1175"/><polygon points="1104,-5.5 1095,0 1104,5.5"/><rect x="1120" y="-7.3" width="30" height="14.6" rx="3"/><text x="1135" y="4.6">ant1</text></g>
<g class="cr"><path d="M1225 0H1272"/><polygon points="1227,-5.5 1218,0 1227,5.5"/><rect x="1231" y="-7.3" width="28" height="14.6" rx="3"/><text x="1245" y="4.6">IS-?</text></g>
</g>
<!-- row 16 -->
<g transform="translate(0,443.6)">
<g class="cg"><path d="M377 0H455"/><polygon points="454,-5.5 463,0 454,5.5"/><rect x="394" y="-7.3" width="51" height="14.6" rx="3"/><text x="419.5" y="4.6">blaNDM</text></g>
<g class="cb"><polygon points="465,-7.3 496,-7.3 502,0 496,7.3 465,7.3 462,4 462,-4"/><text x="480" y="4.6">ble</text></g>
<g class="ct"><path d="M502 0H560"/><polygon points="559,-5.5 568,0 559,5.5"/><rect x="520" y="-7.3" width="28" height="14.6" rx="3"/><text x="534" y="4.6">trpF</text></g>
<g class="cd"><path d="M575 0H673"/><polygon points="577,-5.5 568,0 577,5.5"/><rect x="603" y="-7.3" width="35" height="14.6" rx="3"/><text x="620.5" y="4.6">dsbD</text></g>
<g class="cc"><polygon points="681,-7.3 713,-7.3 713,7.3 681,7.3 675,0"/><text x="695" y="4.6">cutA</text></g>
</g>
<!-- row 17 -->
<g transform="translate(0,465.9)">
<g class="cg"><path d="M377 0H455"/><polygon points="454,-5.5 463,0 454,5.5"/><rect x="394" y="-7.3" width="51" height="14.6" rx="3"/><text x="419.5" y="4.6">blaNDM</text></g>
<g class="cb"><polygon points="465,-7.3 496,-7.3 502,0 496,7.3 465,7.3 462,4 462,-4"/><text x="480" y="4.6">ble</text></g>
<g class="ct"><path d="M502 0H560"/><polygon points="559,-5.5 568,0 559,5.5"/><rect x="520" y="-7.3" width="28" height="14.6" rx="3"/><text x="534" y="4.6">trpF</text></g>
<g class="cd"><path d="M575 0H673"/><polygon points="577,-5.5 568,0 577,5.5"/><rect x="603" y="-7.3" width="35" height="14.6" rx="3"/><text x="620.5" y="4.6">dsbD</text></g>
<g class="cc"><polygon points="681,-7.3 713,-7.3 713,7.3 681,7.3 675,0"/><text x="695" y="4.6">cutA</text></g>
<g class="cr"><path d="M718 0H782"/><polygon points="781,-5.5 790,0 781,5.5"/><rect x="737" y="-7.3" width="31" height="14.6" rx="3"/><text x="752.5" y="4.6">IS26</text></g>
</g>
<!-- row 18 -->
<g transform="translate(0,488.2)">
<g class="cg"><path d="M377 0H455"/><polygon points="454,-5.5 463,0 454,5.5"/><rect x="394" y="-7.3" width="51" height="14.6" rx="3"/><text x="419.5" y="4.6">blaNDM</text></g>
<g class="cb"><polygon points="465,-7.3 496,-7.3 502,0 496,7.3 465,7.3 462,4 462,-4"/><text x="480" y="4.6">ble</text></g>
<g class="ct"><path d="M502 0H560"/><polygon points="559,-5.5 568,0 559,5.5"/><rect x="520" y="-7.3" width="28" height="14.6" rx="3"/><text x="534" y="4.6">trpF</text></g>
<g class="cd"><path d="M575 0H673"/><polygon points="577,-5.5 568,0 577,5.5"/><rect x="603" y="-7.3" width="35" height="14.6" rx="3"/><text x="620.5" y="4.6">dsbD</text></g>
</g>
<!-- row 19 -->
<g transform="translate(0,510.6)">
<g class="cg"><path d="M377 0H455"/><polygon points="454,-5.5 463,0 454,5.5"/><rect x="394" y="-7.3" width="51" height="14.6" rx="3"/><text x="419.5" y="4.6">blaNDM</text></g>
<g class="ct"><path d="M515 0H560"/><polygon points="559,-5.5 568,0 559,5.5"/><rect x="527" y="-7.3" width="27" height="14.6" rx="3"/><text x="540.5" y="4.6">trpF</text></g>
<g class="cp"><path d="M729 0H790"/><polygon points="731,-5.5 722,0 731,5.5"/><rect x="745" y="-7.3" width="23" height="14.6" rx="3"/><text x="756.5" y="4.6">hin</text></g>
<g class="cr"><path d="M869 0H1038"/><polygon points="1037,-5.5 1046,0 1037,5.5"/><rect x="932" y="-7.3" width="50" height="14.6" rx="3"/><text x="957" y="4.6">ISCR27</text></g>
</g>
<!-- row 20 -->
<g transform="translate(0,532.9)">
<g class="cg"><path d="M377 0H455"/><polygon points="454,-5.5 463,0 454,5.5"/><rect x="394" y="-7.3" width="51" height="14.6" rx="3"/><text x="419.5" y="4.6">blaNDM</text></g>
<g class="cb"><polygon points="465,-7.3 496,-7.3 502,0 496,7.3 465,7.3 462,4 462,-4"/><text x="480" y="4.6">ble</text></g>
<g class="ct"><path d="M502 0H560"/><polygon points="559,-5.5 568,0 559,5.5"/><rect x="520" y="-7.3" width="28" height="14.6" rx="3"/><text x="534" y="4.6">trpF</text></g>
<g class="cd"><path d="M575 0H673"/><polygon points="577,-5.5 568,0 577,5.5"/><rect x="603" y="-7.3" width="35" height="14.6" rx="3"/><text x="620.5" y="4.6">dsbD</text></g>
<g class="cr"><path d="M712 0H866"/><polygon points="714,-5.5 705,0 714,5.5"/><rect x="765" y="-7.3" width="43" height="14.6" rx="3"/><text x="786.5" y="4.6">ISCR1</text></g>
<g class="cp"><path d="M914 0H967"/><polygon points="916,-5.5 907,0 916,5.5"/><rect x="937" y="-7.3" width="30" height="14.6" rx="3"/><text x="952" y="4.6">sul1</text></g>
<g class="ct"><rect x="983" y="-7.3" width="59" height="14.6" rx="3"/><text x="1012.5" y="4.6">trpF_part</text></g>
<g class="cp"><path d="M1057 0H1133"/><polygon points="1059,-5.5 1050,0 1059,5.5"/><rect x="1077" y="-7.3" width="30" height="14.6" rx="3"/><text x="1092" y="4.6">ant1</text></g>
</g>
<!-- row 21 -->
<g transform="translate(0,555.2)">
<g class="cg"><path d="M377 0H455"/><polygon points="454,-5.5 463,0 454,5.5"/><rect x="394" y="-7.3" width="51" height="14.6" rx="3"/><text x="419.5" y="4.6">blaNDM</text></g>
<g class="cb"><polygon points="465,-7.3 496,-7.3 502,0 496,7.3 465,7.3 462,4 462,-4"/><text x="480" y="4.6">ble</text></g>
<g class="ct"><path d="M502 0H560"/><polygon points="559,-5.5 568,0 559,5.5"/><rect x="520" y="-7.3" width="28" height="14.6" rx="3"/><text x="534" y="4.6">trpF</text></g>
<g class="cd"><path d="M575 0H673"/><polygon points="577,-5.5 568,0 577,5.5"/><rect x="603" y="-7.3" width="35" height="14.6" rx="3"/><text x="620.5" y="4.6">dsbD</text></g>
<g class="cr"><path d="M712 0H866"/><polygon points="714,-5.5 705,0 714,5.5"/><rect x="765" y="-7.3" width="43" height="14.6" rx="3"/><text x="786.5" y="4.6">ISCR1</text></g>
<g class="cp"><path d="M914 0H967"/><polygon points="916,-5.5 907,0 916,5.5"/><rect x="937" y="-7.3" width="30" height="14.6" rx="3"/><text x="952" y="4.6">sul1</text></g>
<g class="ct"><rect x="983" y="-7.3" width="59" height="14.6" rx="3"/><text x="1012.5" y="4.6">trpF_part</text></g>
<g class="cp"><path d="M1054 0H1128"/><polygon points="1056,-5.5 1047,0 1056,5.5"/><rect x="1073" y="-7.3" width="29" height="14.6" rx="3"/><text x="1087.5" y="4.6">ant1</text></g>
<g class="cr"><path d="M1177 0H1223"/><polygon points="1179,-5.5 1170,0 1179,5.5"/><rect x="1183" y="-7.3" width="29" height="14.6" rx="3"/><text x="1197.5" y="4.6">IS-?</text></g>
</g>
<!-- row 22 -->
<g transform="translate(0,577.6)">
<g class="cg"><path d="M377 0H455"/><polygon points="454,-5.5 463,0 454,5.5"/><rect x="394" y="-7.3" width="51" height="14.6" rx="3"/><text x="419.5" y="4.6">blaNDM</text></g>
<g class="cb"><polygon points="465,-7.3 496,-7.3 502,0 496,7.3 465,7.3 462,4 462,-4"/><text x="480" y="4.6">ble</text></g>
<g class="ct"><path d="M502 0H560"/><polygon points="559,-5.5 568,0 559,5.5"/><rect x="520" y="-7.3" width="28" height="14.6" rx="3"/><text x="534" y="4.6">trpF</text></g>
<g class="cd"><path d="M575 0H673"/><polygon points="577,-5.5 568,0 577,5.5"/><rect x="603" y="-7.3" width="35" height="14.6" rx="3"/><text x="620.5" y="4.6">dsbD</text></g>
<g class="cr"><path d="M712 0H866"/><polygon points="714,-5.5 705,0 714,5.5"/><rect x="765" y="-7.3" width="43" height="14.6" rx="3"/><text x="786.5" y="4.6">ISCR1</text></g>
<g class="cp"><path d="M914 0H967"/><polygon points="916,-5.5 907,0 916,5.5"/><rect x="937" y="-7.3" width="30" height="14.6" rx="3"/><text x="952" y="4.6">sul1</text></g>
<g class="ct"><rect x="983" y="-7.3" width="59" height="14.6" rx="3"/><text x="1012.5" y="4.6">trpF_part</text></g>
<g class="cy"><path d="M1103 0H1237"/><polygon points="1236,-5.5 1245,0 1236,5.5"/><rect x="1143" y="-7.3" width="60" height="14.6" rx="3"/><text x="1173" y="4.6">hyp. ORF</text></g>
</g>
<!-- row 23 -->
<g transform="translate(0,599.9)">
<g class="cg"><path d="M377 0H455"/><polygon points="454,-5.5 463,0 454,5.5"/><rect x="394" y="-7.3" width="51" height="14.6" rx="3"/><text x="419.5" y="4.6">blaNDM</text></g>
<g class="cb"><polygon points="465,-7.3 496,-7.3 502,0 496,7.3 465,7.3 462,4 462,-4"/><text x="480" y="4.6">ble</text></g>
<g class="ct"><path d="M502 0H560"/><polygon points="559,-5.5 568,0 559,5.5"/><rect x="520" y="-7.3" width="28" height="14.6" rx="3"/><text x="534" y="4.6">trpF</text></g>
<g class="cd"><path d="M575 0H673"/><polygon points="577,-5.5 568,0 577,5.5"/><rect x="603" y="-7.3" width="35" height="14.6" rx="3"/><text x="620.5" y="4.6">dsbD</text></g>
<g class="cp"><path d="M694 0H805"/><polygon points="696,-5.5 687,0 696,5.5"/><rect x="732" y="-7.3" width="29" height="14.6" rx="3"/><text x="746.5" y="4.6">bin3</text></g>
<g class="cp"><path d="M912 0H980"/><polygon points="914,-5.5 905,0 914,5.5"/><rect x="920" y="-7.3" width="32" height="14.6" rx="3"/><text x="936" y="4.6">tmrB</text></g>
<g class="cp"><path d="M970 0H1038"/><polygon points="972,-5.5 963,0 972,5.5"/><rect x="984" y="-7.3" width="35" height="14.6" rx="3"/><text x="1001.5" y="4.6">yokD</text></g>
</g>
<!-- row 24 -->
<g transform="translate(0,622.2)">
<g class="cg"><path d="M377 0H455"/><polygon points="454,-5.5 463,0 454,5.5"/><rect x="394" y="-7.3" width="51" height="14.6" rx="3"/><text x="419.5" y="4.6">blaNDM</text></g>
<g class="ct"><path d="M510 0H560"/><polygon points="559,-5.5 568,0 559,5.5"/><rect x="527" y="-7.3" width="26" height="14.6" rx="3"/><text x="540" y="4.6">trpF</text></g>
<g class="cd"><path d="M575 0H673"/><polygon points="577,-5.5 568,0 577,5.5"/><rect x="603" y="-7.3" width="35" height="14.6" rx="3"/><text x="620.5" y="4.6">dsbD</text></g>
<g class="cy"><path d="M704 0H857"/><polygon points="706,-5.5 697,0 706,5.5"/><rect x="747" y="-7.3" width="61" height="14.6" rx="3"/><text x="777.5" y="4.6">hyp. ORF</text></g>
<g class="cp"><path d="M865 0H913"/><polygon points="867,-5.5 858,0 867,5.5"/><rect x="872" y="-7.3" width="32" height="14.6" rx="3"/><text x="888" y="4.6">tnpR</text></g>
</g>
<!-- row 25 -->
<g transform="translate(0,644.6)">
<g class="cg"><path d="M377 0H455"/><polygon points="454,-5.5 463,0 454,5.5"/><rect x="394" y="-7.3" width="51" height="14.6" rx="3"/><text x="419.5" y="4.6">blaNDM</text></g>
<g class="cb"><polygon points="465,-7.3 496,-7.3 502,0 496,7.3 465,7.3 462,4 462,-4"/><text x="480" y="4.6">ble</text></g>
<g class="ct"><path d="M502 0H560"/><polygon points="559,-5.5 568,0 559,5.5"/><rect x="520" y="-7.3" width="28" height="14.6" rx="3"/><text x="534" y="4.6">trpF</text></g>
<g class="cd"><path d="M575 0H650"/><polygon points="577,-5.5 568,0 577,5.5"/><rect x="590" y="-7.3" width="35" height="14.6" rx="3"/><text x="607.5" y="4.6">dsbD</text></g>
<g class="cr"><path d="M659 0H943"/><polygon points="661,-5.5 652,0 661,5.5"/><rect x="774" y="-7.3" width="49" height="14.6" rx="3"/><text x="798.5" y="4.6">Tn5403</text></g>
<g class="cp"><path d="M964 0H1020"/><polygon points="1019,-5.5 1028,0 1019,5.5"/><rect x="980" y="-7.3" width="32" height="14.6" rx="3"/><text x="996" y="4.6">pinR</text></g>
<g class="cp"><path d="M1095 0H1212"/><polygon points="1211,-5.5 1220,0 1211,5.5"/><rect x="1140" y="-7.3" width="34" height="14.6" rx="3"/><text x="1157" y="4.6">nhaA</text></g>
</g>
<!-- row 26 -->
<g transform="translate(0,666.9)">
<g class="cg"><path d="M377 0H455"/><polygon points="454,-5.5 463,0 454,5.5"/><rect x="394" y="-7.3" width="51" height="14.6" rx="3"/><text x="419.5" y="4.6">blaNDM</text></g>
<g class="cb"><polygon points="465,-7.3 496,-7.3 502,0 496,7.3 465,7.3 462,4 462,-4"/><text x="480" y="4.6">ble</text></g>
<g class="ct"><path d="M502 0H560"/><rect x="520" y="-7.3" width="28" height="14.6" rx="3"/><text x="534" y="4.6">trpF</text></g>
<g class="cd"><rect x="560" y="-7.3" width="37" height="14.6" rx="3"/><text x="578.5" y="4.6">dsbD</text></g>
<g class="cr"><path d="M644 0H800"/><polygon points="646,-5.5 637,0 646,5.5"/><rect x="698" y="-7.3" width="42" height="14.6" rx="3"/><text x="719" y="4.6">ISCR1</text></g>
</g>
<!-- row 27 -->
<g transform="translate(0,689.2)">
<g class="cg"><path d="M377 0H455"/><polygon points="454,-5.5 463,0 454,5.5"/><rect x="394" y="-7.3" width="51" height="14.6" rx="3"/><text x="419.5" y="4.6">blaNDM</text></g>
<g class="cb"><polygon points="465,-7.3 496,-7.3 502,0 496,7.3 465,7.3 462,4 462,-4"/><text x="480" y="4.6">ble</text></g>
<g class="ct"><path d="M502 0H560"/><polygon points="559,-5.5 568,0 559,5.5"/><rect x="520" y="-7.3" width="28" height="14.6" rx="3"/><text x="534" y="4.6">trpF</text></g>
</g>
<!-- row 28 -->
<g transform="translate(0,711.5)">
<g class="cg"><path d="M377 0H455"/><polygon points="454,-5.5 463,0 454,5.5"/><rect x="394" y="-7.3" width="51" height="14.6" rx="3"/><text x="419.5" y="4.6">blaNDM</text></g>
<g class="cb"><polygon points="465,-7.3 496,-7.3 502,0 496,7.3 465,7.3 462,4 462,-4"/><text x="480" y="4.6">ble</text></g>
<g class="cp"><path d="M542 0H643"/><polygon points="544,-5.5 535,0 544,5.5"/><rect x="577" y="-7.3" width="26" height="14.6" rx="3"/><text x="590" y="4.6">dap</text></g>
<g class="cp"><path d="M653 0H739"/><polygon points="738,-5.5 747,0 738,5.5"/><rect x="680" y="-7.3" width="37" height="14.6" rx="3"/><text x="698.5" y="4.6">ampR</text></g>
<g class="cp"><path d="M787 0H795"/><polygon points="752,-7.3 787,-7.3 787,7.3 752,7.3 746,0"/><text x="769.5" y="4.6">pspF</text></g>
<g class="cp"><path d="M807 0H887"/><polygon points="886,-5.5 895,0 886,5.5"/><rect x="834" y="-7.3" width="28" height="14.6" rx="3"/><text x="848" y="4.6">sul1</text></g>
<g class="cr"><path d="M935 0H1089"/><polygon points="1088,-5.5 1097,0 1088,5.5"/><rect x="993" y="-7.3" width="44" height="14.6" rx="3"/><text x="1015" y="4.6">ISCR1</text></g>
</g>
<!-- row 29 -->
<g transform="translate(0,733.9)">
<g class="cg"><path d="M377 0H455"/><polygon points="454,-5.5 463,0 454,5.5"/><rect x="394" y="-7.3" width="51" height="14.6" rx="3"/><text x="419.5" y="4.6">blaNDM</text></g>
<g class="cp"><path d="M542 0H643"/><polygon points="544,-5.5 535,0 544,5.5"/><rect x="577" y="-7.3" width="26" height="14.6" rx="3"/><text x="590" y="4.6">dap</text></g>
<g class="cp"><path d="M653 0H739"/><polygon points="738,-5.5 747,0 738,5.5"/><rect x="680" y="-7.3" width="37" height="14.6" rx="3"/><text x="698.5" y="4.6">ampR</text></g>
<g class="cp"><path d="M787 0H795"/><polygon points="752,-7.3 787,-7.3 787,7.3 752,7.3 746,0"/><text x="769.5" y="4.6">pspF</text></g>
<g class="cp"><path d="M807 0H885"/><polygon points="884,-5.5 893,0 884,5.5"/><rect x="834" y="-7.3" width="28" height="14.6" rx="3"/><text x="848" y="4.6">sul1</text></g>
<g class="cr"><path d="M938 0H1083"/><polygon points="1082,-5.5 1091,0 1082,5.5"/><rect x="992" y="-7.3" width="43" height="14.6" rx="3"/><text x="1013.5" y="4.6">ISCR1</text></g>
<g class="cr"><path d="M1119 0H1197"/><polygon points="1196,-5.5 1205,0 1196,5.5"/><rect x="1138" y="-7.3" width="47" height="14.6" rx="3"/><text x="1161.5" y="4.6">ISEc35</text></g>
</g>
<!-- row 30 -->
<g transform="translate(0,756.2)">
<g class="cg"><path d="M377 0H455"/><polygon points="454,-5.5 463,0 454,5.5"/><rect x="394" y="-7.3" width="51" height="14.6" rx="3"/><text x="419.5" y="4.6">blaNDM</text></g>
<g class="cb"><polygon points="465,-7.3 496,-7.3 502,0 496,7.3 465,7.3 462,4 462,-4"/><text x="480" y="4.6">ble</text></g>
<g class="cp"><path d="M542 0H643"/><polygon points="544,-5.5 535,0 544,5.5"/><rect x="577" y="-7.3" width="26" height="14.6" rx="3"/><text x="590" y="4.6">dap</text></g>
<g class="cp"><path d="M653 0H739"/><polygon points="738,-5.5 747,0 738,5.5"/><rect x="680" y="-7.3" width="37" height="14.6" rx="3"/><text x="698.5" y="4.6">ampR</text></g>
<g class="cp"><polygon points="748,-7.3 783,-7.3 789,0 783,7.3 748,7.3"/><text x="766" y="4.6">pspF</text></g>
<g class="cr"><path d="M805 0H930"/><polygon points="807,-5.5 798,0 807,5.5"/><rect x="838" y="-7.3" width="55" height="14.6" rx="3"/><text x="865.5" y="4.6">ISKpn25</text></g>
<g class="cy"><path d="M937 0H1270"/><polygon points="939,-5.5 930,0 939,5.5"/><rect x="1070" y="-7.3" width="62" height="14.6" rx="3"/><text x="1101" y="4.6">hyp. ORF</text></g>
</g>
<!-- row 31 -->
<g transform="translate(0,778.5)">
<g class="cg"><path d="M377 0H455"/><polygon points="454,-5.5 463,0 454,5.5"/><rect x="394" y="-7.3" width="51" height="14.6" rx="3"/><text x="419.5" y="4.6">blaNDM</text></g>
<g class="cb"><polygon points="465,-7.3 496,-7.3 502,0 496,7.3 465,7.3 462,4 462,-4"/><text x="480" y="4.6">ble</text></g>
<g class="ct"><path d="M502 0H545"/><polygon points="544,-5.5 553,0 544,5.5"/><rect x="512" y="-7.3" width="28" height="14.6" rx="3"/><text x="526" y="4.6">trpF</text></g>
<g class="cr"><path d="M575 0H727"/><polygon points="577,-5.5 568,0 577,5.5"/><rect x="628" y="-7.3" width="42" height="14.6" rx="3"/><text x="649" y="4.6">ISCR1</text></g>
</g>
<!-- row 32 -->
<g transform="translate(0,800.9)">
<g class="cg"><path d="M377 0H455"/><polygon points="454,-5.5 463,0 454,5.5"/><rect x="394" y="-7.3" width="51" height="14.6" rx="3"/><text x="419.5" y="4.6">blaNDM</text></g>
<g class="cb"><polygon points="472,-7.3 496,-7.3 502,0 496,7.3 472,7.3 469,4 469,-4"/><text x="484" y="4.6">ble</text></g>
<g class="ct"><path d="M503 0H512"/><polygon points="510,-7.3 540,-7.3 547,0 540,7.3 510,7.3"/><text x="526" y="4.6">trpF</text></g>
<g class="cr"><path d="M560 0H634"/><polygon points="562,-5.5 553,0 562,5.5"/><rect x="574" y="-7.3" width="48" height="14.6" rx="3"/><text x="598" y="4.6">ISSen4</text></g>
<g class="cr"><rect x="634" y="-7.3" width="48" height="14.6" rx="3"/><text x="658" y="4.6">IS1222</text></g>
<g class="cp"><path d="M717 0H773"/><polygon points="719,-5.5 710,0 719,5.5"/><rect x="728" y="-7.3" width="31" height="14.6" rx="3"/><text x="743.5" y="4.6">pinR</text></g>
<g class="cr"><path d="M782 0H1074"/><polygon points="1073,-5.5 1082,0 1073,5.5"/><rect x="906" y="-7.3" width="49" height="14.6" rx="3"/><text x="930.5" y="4.6">Tn5403</text></g>
</g>
<!-- row 33 -->
<g transform="translate(0,823.2)">
<g class="cg"><path d="M377 0H455"/><polygon points="454,-5.5 463,0 454,5.5"/><rect x="394" y="-7.3" width="51" height="14.6" rx="3"/><text x="419.5" y="4.6">blaNDM</text></g>
<g class="cb"><polygon points="471,-7.3 495,-7.3 501,0 495,7.3 471,7.3 468,4 468,-4"/><text x="483" y="4.6">ble</text></g>
<g class="ct"><polygon points="503,-7.3 529,-7.3 535,0 529,7.3 503,7.3"/><text x="516" y="4.6">trpF</text></g>
</g>
<!-- row 34 -->
<g transform="translate(0,845.5)">
<g class="cg"><path d="M377 0H455"/><polygon points="454,-5.5 463,0 454,5.5"/><rect x="394" y="-7.3" width="51" height="14.6" rx="3"/><text x="419.5" y="4.6">blaNDM</text></g>
<g class="cb"><polygon points="465,-7.3 496,-7.3 502,0 496,7.3 465,7.3 462,4 462,-4"/><text x="480" y="4.6">ble</text></g>
</g>
<!-- row 35 -->
<g transform="translate(0,867.9)">
<g class="cg"><path d="M377 0H455"/><polygon points="454,-5.5 463,0 454,5.5"/><rect x="394" y="-7.3" width="51" height="14.6" rx="3"/><text x="419.5" y="4.6">blaNDM</text></g>
<g class="cp"><path d="M559 0H620"/><polygon points="561,-5.5 552,0 561,5.5"/><rect x="575" y="-7.3" width="23" height="14.6" rx="3"/><text x="586.5" y="4.6">hin</text></g>
<g class="cr"><path d="M678 0H849"/><polygon points="848,-5.5 857,0 848,5.5"/><rect x="742" y="-7.3" width="51" height="14.6" rx="3"/><text x="767.5" y="4.6">ISCR27</text></g>
</g>
<!-- rows 36-38 -->
<g transform="translate(0,890.2)"><g class="cg"><path d="M377 0H455"/><polygon points="454,-5.5 463,0 454,5.5"/><rect x="394" y="-7.3" width="51" height="14.6" rx="3"/><text x="419.5" y="4.6">blaNDM</text></g></g>
<g transform="translate(0,912.5)"><g class="cg"><path d="M377 0H455"/><polygon points="454,-5.5 463,0 454,5.5"/><rect x="394" y="-7.3" width="51" height="14.6" rx="3"/><text x="419.5" y="4.6">blaNDM</text></g></g>
<g transform="translate(0,934.8)"><g class="cg"><path d="M377 0H455"/><polygon points="454,-5.5 463,0 454,5.5"/><rect x="394" y="-7.3" width="51" height="14.6" rx="3"/><text x="419.5" y="4.6">blaNDM</text></g></g>
</g>

<!-- Colour legend (# Samples) -->
<text x="9" y="166" font-size="20" fill="#111"># Samples</text>
<rect x="9" y="181" width="32" height="156" fill="url(#cbar)"/>
<path d="M9 227H15M35 227H41M9 283H15M35 283H41" stroke="#fff" stroke-width="1.5"/>
<g font-size="16" fill="#222"><text x="52" y="232.5">1000</text><text x="52" y="288.5">100</text><text x="52" y="343.5">10</text></g>

<!-- Tree dashes -->
<g class="ds"><path d="M328 86.3H346M315 153.3H348M281 198H352M274 354.3H353M172 443.6H353M196 465.9H353M172 488.2H353M270 510.6H353M330 577.6H353M239 599.9H353M212 622.2H353M202 666.9H353M103 689.2H348M311 711.5H336M187 778.5H353M156 823.2H353M95 845.5H353M217 867.9H353M74 890.2H348M90 912.5H353M78 934.8H353"/></g>

<!-- Tree branches -->
<g class="tr">
<path d="M300,131V108.6H325" stroke="#CF935A" stroke-width="6"/>
<path d="M232,175.6H326" stroke="#D09A58" stroke-width="7"/>
<path d="M267,220.3H341" stroke="#E6DA88" stroke-width="5"/>
<path d="M267,242.6H332" stroke="#D7A764" stroke-width="6"/>
<path d="M341,265H352" stroke="#E6DA88" stroke-width="4"/>
<path d="M305,276H266V309.6H332" stroke="#D7A764" stroke-width="6"/>
<path d="M205,293H244" stroke="#CC8E52" stroke-width="7"/>
<path d="M207.6,293V331.9H352" stroke="#E6DA88" stroke-width="5"/>
<path d="M194,318V337" stroke="#E6DA88" stroke-width="4"/>
<path d="M212,354.3H274" stroke="#E6DA88" stroke-width="5"/>
<path d="M339,376.6H352" stroke="#E6DA88" stroke-width="4"/>
<path d="M182,350V388H290" stroke="#D7A764" stroke-width="6"/>
<path d="M326,398.9H332" stroke="#DDB86C" stroke-width="5"/>
<path d="M152,421.3H332" stroke="#D7A764" stroke-width="6"/>
<path d="M143,466H154" stroke="#DDB86C" stroke-width="5"/>
<path d="M163,510.6H270" stroke="#E6DA88" stroke-width="5"/>
<path d="M286,546V532.9H325" stroke="#DDB86C" stroke-width="5"/>
<path d="M259,561V577.6H330" stroke="#E6DA88" stroke-width="5"/>
<path d="M143,560H237" stroke="#B5562F" stroke-width="13"/>
<path d="M259,560V546H292" stroke="#B9603A" stroke-width="10"/>
<path d="M283,555.2H317" stroke="#B9603A" stroke-width="11"/>
<path d="M136,599.9H239" stroke="#E6DA88" stroke-width="5"/>
<path d="M134,622.2H212" stroke="#E6DA88" stroke-width="5"/>
<path d="M137,644.6H326" stroke="#CF9152" stroke-width="8"/>
<path d="M107,666.9H166" stroke="#D5A35F" stroke-width="7"/>
<path d="M118,739.3H146" stroke="#CC8B4F" stroke-width="8"/>
<path d="M167.4,722.3V756.2H332" stroke="#DDB86C" stroke-width="6"/>
<path d="M167.4,722.3H248" stroke="#D5A35F" stroke-width="7"/>
<path d="M284,711.5V733.9H332" stroke="#DDB86C" stroke-width="5"/>
<path d="M96,778.5H150" stroke="#D7A764" stroke-width="6"/>
<path d="M94,800.9H332" stroke="#D29C59" stroke-width="7"/>
<path d="M89,823.2H156" stroke="#E6DA88" stroke-width="5"/>
<path d="M89,845.5H95" stroke="#E6DA88" stroke-width="5"/>
<path d="M78,867.9H216.5" stroke="#E6DA88" stroke-width="5"/>
<path d="M58,918V934.8H78" stroke="#E6DA88" stroke-width="5"/>
<!-- trunk -->
<path d="M62,896L62,842L80,826L82,762" stroke="#8B1111" stroke-width="28"/>
<path d="M82,762L88,750L90,702L96,692L96,657" stroke="#8B1212" stroke-width="25"/>
<path d="M96,657L112,640L113,602L127,588L128,540" stroke="#8C1413" stroke-width="23"/>
<path d="M128,540L131,462L138,452L140,402" stroke="#8F1A15" stroke-width="19"/>
<path d="M140,402L150,390L150,348" stroke="#9B3020" stroke-width="15"/>
<path d="M150,348L178,340L184,310" stroke="#A13C22" stroke-width="14"/>
<path d="M184,310L200,295L207,282L207,200" stroke="#A84828" stroke-width="13"/>
<path d="M207,200L230,180L246,165L246,133L300,133" stroke="#AA4C2B" stroke-width="12"/>
<path d="M93.5,700V724" stroke="#D5A35F" stroke-width="5"/>
</g>

<!-- Tree count labels -->
<g class="tb">
<rect x="292.5" y="72.8" width="35" height="27" rx="3"/><text x="310" y="93.3">30</text>
<rect x="324" y="95.2" width="46" height="27" rx="3"/><text x="347" y="115.7">147</text>
<rect x="266.5" y="108.2" width="46" height="27" rx="3"/><text x="289.5" y="128.7">959</text>
<rect x="312.2" y="117" width="33" height="27" rx="3"/><text x="328.7" y="137.5">55</text>
<rect x="219" y="140.5" width="54" height="27" rx="3"/><text x="246" y="161">1128</text>
<rect x="278.8" y="140" width="35" height="27" rx="3"/><text x="296.3" y="160.5">47</text>
<rect x="326.5" y="162.1" width="47" height="27" rx="3"/><text x="350" y="182.6">118</text>
<rect x="241" y="184.5" width="32" height="27" rx="3"/><text x="257" y="205">63</text>
<rect x="185" y="190.5" width="59" height="27" rx="3"/><text x="214.5" y="211">1589</text>
<rect x="220" y="218.2" width="47" height="27" rx="3"/><text x="243.5" y="238.7">213</text>
<rect x="332" y="229.1" width="36" height="27" rx="3"/><text x="350" y="249.6">85</text>
<rect x="178.6" y="262.5" width="58" height="27" rx="3"/><text x="207.6" y="283">1999</text>
<rect x="332.5" y="273" width="35" height="27" rx="3"/><text x="350" y="293.5">80</text>
<rect x="304.8" y="262.5" width="36" height="27" rx="3"/><text x="322.8" y="283">96</text>
<rect x="244.1" y="279.5" width="47" height="27" rx="3"/><text x="267.6" y="300">192</text>
<rect x="332" y="296.1" width="36" height="27" rx="3"/><text x="350" y="316.6">35</text>
<rect x="154" y="338.5" width="58" height="27" rx="3"/><text x="183" y="359">2159</text>
<rect x="121" y="373.5" width="59" height="27" rx="3"/><text x="150.5" y="394">2359</text>
<rect x="290" y="374.5" width="36" height="27" rx="3"/><text x="308" y="395">34</text>
<rect x="332" y="385.4" width="36" height="27" rx="3"/><text x="350" y="405.9">21</text>
<rect x="332" y="407.8" width="36" height="27" rx="3"/><text x="350" y="428.3">42</text>
<rect x="107" y="430.1" width="59" height="27" rx="3"/><text x="136.5" y="450.6">3966</text>
<rect x="154" y="452.5" width="37" height="27" rx="3"/><text x="172.5" y="473">32</text>
<rect x="121" y="475" width="47" height="27" rx="3"/><text x="144.5" y="495.5">281</text>
<rect x="105" y="510.5" width="59" height="27" rx="3"/><text x="134.5" y="531">5539</text>
<rect x="325" y="519.5" width="36" height="27" rx="3"/><text x="343" y="540">35</text>
<rect x="317" y="541.7" width="48" height="27" rx="3"/><text x="341" y="562.2">636</text>
<rect x="236.5" y="547.5" width="47" height="27" rx="3"/><text x="260" y="568">851</text>
<rect x="79.5" y="629.5" width="58" height="27" rx="3"/><text x="108.5" y="650">5937</text>
<rect x="326.5" y="631.1" width="47" height="27" rx="3"/><text x="350" y="651.6">105</text>
<rect x="166" y="653.5" width="36" height="27" rx="3"/><text x="184" y="674">65</text>
<rect x="275" y="698" width="36" height="27" rx="3"/><text x="293" y="718.5">30</text>
<rect x="248" y="709.1" width="36" height="27" rx="3"/><text x="266" y="729.6">72</text>
<rect x="59" y="726.5" width="59" height="27" rx="3"/><text x="88.5" y="747">6376</text>
<rect x="146" y="725.5" width="47" height="27" rx="3"/><text x="169.5" y="746">139</text>
<rect x="331.5" y="720.5" width="36" height="27" rx="3"/><text x="349.5" y="741">36</text>
<rect x="331.5" y="742.5" width="36" height="27" rx="3"/><text x="349.5" y="763">22</text>
<rect x="149.8" y="765" width="37" height="27" rx="3"/><text x="168.3" y="785.5">49</text>
<rect x="331.5" y="787.4" width="36" height="27" rx="3"/><text x="349.5" y="807.9">68</text>
<rect x="1.4" y="895.5" width="58" height="27" rx="3"/><text x="30.4" y="916">7012</text>
<rect x="54" y="899.5" width="36" height="27" rx="3"/><text x="72" y="920">70</text>
</g>

<!-- Proportion axes -->
<g stroke="#111" fill="none">
<path stroke-width="2.2" d="M1355 65.7H1539.5M1572 65.7H1756.5M1789.5 65.7H1974"/>
<path stroke-width="1.5" d="M1355.6 60V66M1401.4 60V66M1447.2 60V66M1493 60V66M1538.8 60V66M1572.7 60V66M1618.5 60V66M1664.3 60V66M1710.1 60V66M1755.9 60V66M1790.3 60V66M1836.1 60V66M1881.9 60V66M1927.7 60V66M1973.5 60V66"/>
</g>
<g class="tk">
<text transform="translate(1351.6,62) rotate(-45)">0.00</text>
<text transform="translate(1397.4,62) rotate(-45)">0.25</text>
<text transform="translate(1443.2,62) rotate(-45)">0.50</text>
<text transform="translate(1489,62) rotate(-45)">0.75</text>
<text transform="translate(1534.8,62) rotate(-45)">1.00</text>
<text transform="translate(1568.7,62) rotate(-45)">0.00</text>
<text transform="translate(1614.5,62) rotate(-45)">0.25</text>
<text transform="translate(1660.3,62) rotate(-45)">0.50</text>
<text transform="translate(1706.1,62) rotate(-45)">0.75</text>
<text transform="translate(1751.9,62) rotate(-45)">1.00</text>
<text transform="translate(1786.3,62) rotate(-45)">0.00</text>
<text transform="translate(1832.1,62) rotate(-45)">0.25</text>
<text transform="translate(1877.9,62) rotate(-45)">0.50</text>
<text transform="translate(1923.7,62) rotate(-45)">0.75</text>
<text transform="translate(1969.5,62) rotate(-45)">1.00</text>
</g>

<!-- Bars -->
<g class="bars">
<g transform="translate(0,77.4)"><rect class="kB" x="1355.6" width="36.2"/><rect class="kR" x="1391.8" width="18.9"/><rect class="kE" x="1410.7" width="36.2"/><rect class="kA" x="1446.9" width="91.8"/>
<rect class="kG" x="1646.4" width="72.8"/><rect class="kB" x="1719.2" width="36.6"/>
<rect class="kO" x="1845.5" width="18.5"/><rect class="kN" x="1864" width="18.1"/><rect class="kL" x="1882.1" width="37"/><rect class="kR" x="1919.1" width="17.8"/><rect class="kV" x="1936.9" width="36.5"/></g>
<g transform="translate(0,99.7)"><rect class="kO" x="1355.6" width="3.3"/><rect class="kB" x="1358.9" width="77.5"/><rect class="kR" x="1436.4" width="3.8"/><rect class="kE" x="1440.2" width="1.2"/><rect class="kA" x="1441.4" width="97.3"/>
<rect class="kG" x="1712.9" width="23.1"/><rect class="kB" x="1736" width="13.9"/><rect class="kL" x="1749.9" width="3"/><rect class="kY" x="1752.9" width="1.2"/><rect class="kA" x="1754.1" width="1.7"/>
<rect class="kA" x="1835.4" width="30.7"/><rect class="kO" x="1866.1" width="53.9"/><rect class="kL" x="1920" width="15.1"/><rect class="kY" x="1935.1" width="2.6"/><rect class="kB" x="1937.7" width="2.5"/><rect class="kR" x="1940.2" width="25.6"/><rect class="kV" x="1965.8" width="6.8"/><rect class="kE" x="1972.6" width="0.8"/></g>
<g transform="translate(0,122.1)"><rect class="kG" x="1355.6" width="11.8"/><rect class="kB" x="1367.4" width="81.6"/><rect class="kR" x="1449" width="53"/><rect class="kE" x="1502" width="36.7"/>
<rect class="kG" x="1585.4" width="24"/><rect class="kY" x="1609.4" width="126.2"/><rect class="kE" x="1735.6" width="3.8"/><rect class="kB" x="1739.4" width="4.6"/><rect class="kL" x="1744" width="3.4"/><rect class="kA" x="1747.4" width="4.6"/><rect class="kV" x="1752" width="3.8"/>
<rect class="kA" x="1806.8" width="12.2"/><rect class="kL" x="1819" width="8"/><rect class="kR" x="1827" width="146.4"/></g>
<g transform="translate(0,144.4)"><rect class="kB" x="1355.6" width="173"/><rect class="kR" x="1528.6" width="10.1"/>
<rect class="kG" x="1685.5" width="19.4"/><rect class="kL" x="1704.9" width="10.5"/><rect class="kV" x="1715.4" width="40.4"/>
<rect class="kB" x="1821.1" width="152.3"/></g>
<g transform="translate(0,166.7)"><rect class="kG" x="1355.6" width="16"/><rect class="kO" x="1371.6" width="2.1"/><rect class="kB" x="1373.7" width="101.8"/><rect class="kR" x="1475.5" width="61"/><rect class="kE" x="1536.5" width="2.2"/>
<rect class="kA" x="1608.9" width="146.9"/>
<rect class="kA" x="1838.7" width="0.9"/><rect class="kO" x="1839.6" width="33.2"/><rect class="kL" x="1872.8" width="17.3"/><rect class="kY" x="1890.1" width="13.5"/><rect class="kB" x="1903.6" width="42.5"/><rect class="kR" x="1946.1" width="14.3"/><rect class="kV" x="1960.4" width="1.6"/><rect class="kE" x="1962" width="11.4"/></g>
<g transform="translate(0,189.1)"><rect class="kB" x="1355.6" width="90.9"/><rect class="kR" x="1446.5" width="82.9"/><rect class="kE" x="1529.4" width="9.3"/>
<rect class="kL" x="1609.4" width="9.2"/><rect class="kA" x="1618.6" width="137.2"/>
<rect class="kA" x="1808" width="0.9"/><rect class="kO" x="1808.9" width="36.2"/><rect class="kL" x="1845.1" width="18.9"/><rect class="kB" x="1864" width="109.4"/></g>
<g transform="translate(0,211.4)"><rect class="kB" x="1355.6" width="162.4"/><rect class="kE" x="1518" width="20.7"/>
<rect class="kY" x="1912.8" width="20.2"/><rect class="kB" x="1933" width="40.4"/></g>
<g transform="translate(0,233.7)"><rect class="kG" x="1355.6" width="24.8"/><rect class="kB" x="1380.4" width="122.5"/><rect class="kR" x="1502.9" width="2.1"/><rect class="kE" x="1505" width="33.7"/>
<rect class="kG" x="1685.5" width="1.7"/><rect class="kB" x="1687.2" width="68.6"/>
<rect class="kA" x="1874.5" width="4.2"/><rect class="kO" x="1878.7" width="3"/><rect class="kL" x="1881.7" width="8.4"/><rect class="kY" x="1890.1" width="17.3"/><rect class="kB" x="1907.4" width="30.7"/><rect class="kR" x="1938.1" width="7.5"/><rect class="kE" x="1945.6" width="27.8"/></g>
<g transform="translate(0,256)"><rect class="kB" x="1355.6" width="183.1"/>
<rect class="kG" x="1738.2" width="17.6"/>
<rect class="kA" x="1790.3" width="183.1"/></g>
<g transform="translate(0,278.4)"><rect class="kB" x="1355.6" width="183.1"/>
<rect class="kL" x="1751.2" width="1.7"/><rect class="kB" x="1752.9" width="2.9"/>
<rect class="kA" x="1806.8" width="4.2"/><rect class="kO" x="1811" width="148.9"/><rect class="kL" x="1959.9" width="7.2"/><rect class="kR" x="1967.1" width="4.2"/><rect class="kV" x="1971.3" width="2.1"/></g>
<g transform="translate(0,300.7)"><rect class="kB" x="1355.6" width="183.1"/>
<rect class="kG" x="1672.5" width="5.5"/><rect class="kB" x="1678" width="31.5"/><rect class="kV" x="1709.5" width="46.3"/>
<rect class="kA" x="1911.1" width="10.1"/><rect class="kO" x="1921.2" width="15.7"/><rect class="kL" x="1936.9" width="4.9"/><rect class="kY" x="1941.8" width="10.6"/><rect class="kB" x="1952.4" width="21"/></g>
<g transform="translate(0,323)"><rect class="kG" x="1355.6" width="25.6"/><rect class="kB" x="1381.2" width="118.3"/><rect class="kR" x="1499.5" width="26.1"/><rect class="kE" x="1525.6" width="13.1"/>
<rect class="kG" x="1664.5" width="65.7"/><rect class="kE" x="1730.2" width="12.6"/><rect class="kB" x="1742.8" width="13"/>
<rect class="kR" x="1816.9" width="156.5"/></g>
<g transform="translate(0,345.4)"><rect class="kB" x="1355.6" width="183.1"/>
<rect class="kG" x="1618.6" width="30.3"/><rect class="kB" x="1648.9" width="106.9"/>
<rect class="kB" x="1790.3" width="183.1"/></g>
<g transform="translate(0,367.7)"><rect class="kB" x="1355.6" width="183.1"/>
<rect class="kG" x="1723" width="32.8"/></g>
<g transform="translate(0,390)"><rect class="kP" x="1355.6" width="8.4"/><rect class="kB" x="1364" width="148.6"/><rect class="kR" x="1512.6" width="26.1"/>
<rect class="kG" x="1669.1" width="86.7"/></g>
<g transform="translate(0,412.4)"><rect class="kG" x="1355.6" width="4.2"/><rect class="kB" x="1359.8" width="17.7"/><rect class="kR" x="1377.5" width="161.2"/>
<rect class="kG" x="1577.4" width="76.2"/><rect class="kE" x="1653.6" width="22.7"/><rect class="kB" x="1676.3" width="3.8"/><rect class="kA" x="1680.1" width="5"/><rect class="kV" x="1685.1" width="70.7"/>
<rect class="kR" x="1790.3" width="183.1"/></g>
<g transform="translate(0,434.7)"><rect class="kA" x="1355.6" width="183.1"/>
<rect class="kV" x="1683" width="72.8"/>
<rect class="kO" x="1845.5" width="18.5"/><rect class="kL" x="1864" width="37"/><rect class="kY" x="1901" width="18.1"/><rect class="kE" x="1919.1" width="54.3"/></g>
<g transform="translate(0,457)"><rect class="kB" x="1355.6" width="177.6"/><rect class="kR" x="1533.2" width="3.3"/><rect class="kE" x="1536.5" width="2.2"/>
<rect class="kG" x="1647.7" width="41.6"/><rect class="kB" x="1689.3" width="28.6"/><rect class="kL" x="1717.9" width="8"/><rect class="kV" x="1725.9" width="29.9"/>
<rect class="kA" x="1805.9" width="7.6"/><rect class="kO" x="1813.5" width="2.1"/><rect class="kN" x="1815.6" width="3.4"/><rect class="kL" x="1819" width="21"/><rect class="kY" x="1840" width="15.6"/><rect class="kB" x="1855.6" width="103.1"/><rect class="kR" x="1958.7" width="7.1"/><rect class="kV" x="1965.8" width="7.6"/></g>
<g transform="translate(0,479.3)"><rect class="kG" x="1355.6" width="6.3"/><rect class="kO" x="1361.9" width="13"/><rect class="kB" x="1374.9" width="45.9"/><rect class="kR" x="1420.8" width="109.9"/><rect class="kE" x="1530.7" width="8"/>
<rect class="kG" x="1574.4" width="1.7"/><rect class="kY" x="1576.1" width="128.4"/><rect class="kE" x="1704.5" width="6.7"/><rect class="kB" x="1711.2" width="4.6"/><rect class="kV" x="1715.8" width="40"/>
<rect class="kO" x="1806.8" width="5.8"/><rect class="kL" x="1812.6" width="4.3"/><rect class="kY" x="1816.9" width="5.8"/><rect class="kB" x="1822.7" width="4.3"/><rect class="kR" x="1827" width="128.7"/><rect class="kE" x="1955.7" width="17.7"/></g>
<g transform="translate(0,501.7)"><rect class="kA" x="1355.6" width="183.1"/>
<rect class="kG" x="1618.6" width="137.2"/>
<rect class="kR" x="1813.5" width="159.9"/></g>
<g transform="translate(0,524)"><rect class="kG" x="1370.7" width="15.2"/><rect class="kR" x="1385.9" width="152.8"/>
<rect class="kB" x="1618.6" width="61.5"/><rect class="kV" x="1680.1" width="75.7"/>
<rect class="kO" x="1836.6" width="76.2"/><rect class="kL" x="1912.8" width="15.2"/><rect class="kB" x="1928" width="15.5"/><rect class="kR" x="1943.5" width="29.9"/></g>
<g transform="translate(0,546.3)"><rect class="kB" x="1364.8" width="86.3"/><rect class="kR" x="1451.1" width="85.4"/><rect class="kE" x="1536.5" width="2.2"/>
<rect class="kG" x="1649.3" width="4.3"/><rect class="kE" x="1653.6" width="0.8"/><rect class="kB" x="1654.4" width="27.4"/><rect class="kV" x="1681.8" width="74"/>
<rect class="kA" x="1806.8" width="74"/><rect class="kO" x="1880.8" width="38.3"/><rect class="kL" x="1919.1" width="8.9"/><rect class="kY" x="1928" width="9.7"/><rect class="kB" x="1937.7" width="27.7"/><rect class="kR" x="1965.4" width="7.2"/><rect class="kE" x="1972.6" width="0.8"/></g>
<g transform="translate(0,568.7)"><rect class="kB" x="1355.6" width="109.8"/><rect class="kR" x="1465.4" width="73.3"/>
<rect class="kB" x="1572.7" width="146.5"/><rect class="kV" x="1719.2" width="36.6"/>
<rect class="kO" x="1827" width="37"/><rect class="kL" x="1864" width="36.6"/><rect class="kB" x="1900.6" width="36.3"/><rect class="kR" x="1936.9" width="36.5"/></g>
<g transform="translate(0,591)"><rect class="kB" x="1355.6" width="183.1"/>
<rect class="kV" x="1572.7" width="183.1"/>
<rect class="kB" x="1882.1" width="91.3"/></g>
<g transform="translate(0,613.3)"><rect class="kR" x="1355.6" width="183.1"/>
<rect class="kB" x="1689.7" width="16"/><rect class="kV" x="1705.7" width="50.1"/>
<rect class="kR" x="1790.3" width="183.1"/></g>
<g transform="translate(0,635.7)"><rect class="kB" x="1355.6" width="181.4"/><rect class="kE" x="1537" width="1.7"/>
<rect class="kG" x="1627.5" width="2.9"/><rect class="kB" x="1630.4" width="63.1"/><rect class="kV" x="1693.5" width="62.3"/>
<rect class="kL" x="1834.5" width="6.8"/><rect class="kY" x="1841.3" width="1.7"/><rect class="kB" x="1843" width="130.4"/></g>
<g transform="translate(0,658)"><rect class="kP" x="1355.6" width="22.3"/><rect class="kG" x="1377.9" width="8"/><rect class="kB" x="1385.9" width="152.8"/>
<rect class="kG" x="1648.9" width="15.6"/><rect class="kA" x="1664.5" width="30.3"/><rect class="kV" x="1694.8" width="61"/>
<rect class="kO" x="1843.8" width="61"/><rect class="kB" x="1904.8" width="53.9"/><rect class="kR" x="1958.7" width="14.7"/></g>
<g transform="translate(0,680.3)"><rect class="kB" x="1355.6" width="183.1"/>
<rect class="kV" x="1572.7" width="183.1"/>
<rect class="kL" x="1790.3" width="183.1"/></g>
<g transform="translate(0,702.6)"><rect class="kB" x="1355.6" width="183.1"/>
<rect class="kA" x="1651.5" width="52.6"/><rect class="kV" x="1704.1" width="51.7"/>
<rect class="kA" x="1816.9" width="26.1"/><rect class="kB" x="1843" width="130.4"/></g>
<g transform="translate(0,725)"><rect class="kG" x="1355.6" width="5.4"/><rect class="kB" x="1361" width="144.4"/><rect class="kR" x="1505.4" width="22.3"/><rect class="kE" x="1527.7" width="11"/>
<rect class="kG" x="1717.5" width="16.4"/><rect class="kB" x="1733.9" width="5.1"/><rect class="kA" x="1739" width="16.8"/>
<rect class="kO" x="1840.4" width="27.8"/><rect class="kY" x="1868.2" width="22.3"/><rect class="kB" x="1890.5" width="16.4"/><rect class="kR" x="1906.9" width="5.5"/><rect class="kE" x="1912.4" width="61"/></g>
<g transform="translate(0,747.3)"><rect class="kB" x="1355.6" width="122"/><rect class="kR" x="1477.6" width="61.1"/>
<rect class="kB" x="1821.1" width="152.3"/></g>
<g transform="translate(0,769.6)"><rect class="kG" x="1355.6" width="63.5"/><rect class="kO" x="1419.1" width="8"/><rect class="kB" x="1427.1" width="39.6"/><rect class="kR" x="1466.7" width="64"/><rect class="kE" x="1530.7" width="8"/>
<rect class="kG" x="1660.7" width="47.6"/><rect class="kB" x="1708.3" width="8"/><rect class="kA" x="1716.3" width="31.5"/><rect class="kV" x="1747.8" width="8"/>
<rect class="kL" x="1806.3" width="32"/><rect class="kR" x="1838.3" width="135.1"/></g>
<g transform="translate(0,792)"><rect class="kB" x="1355.6" width="133.4"/><rect class="kR" x="1489" width="49.7"/>
<rect class="kO" x="1579.9" width="175.9"/>
<rect class="kA" x="1797.5" width="141.4"/><rect class="kL" x="1938.9" width="6.3"/><rect class="kR" x="1945.2" width="28.2"/></g>
<g transform="translate(0,814.3)"><rect class="kB" x="1355.6" width="152.8"/><rect class="kR" x="1508.4" width="30.3"/>
<rect class="kA" x="1664.5" width="30.3"/><rect class="kV" x="1694.8" width="61"/>
<rect class="kA" x="1882.1" width="91.3"/></g>
<g transform="translate(0,836.6)"><rect class="kP" x="1355.6" width="183.1"/>
<rect class="kV" x="1572.7" width="183.1"/>
<rect class="kO" x="1790.3" width="183.1"/></g>
<g transform="translate(0,859)"><rect class="kA" x="1355.6" width="183.1"/>
<rect class="kG" x="1572.7" width="183.1"/></g>
<g transform="translate(0,881.3)"><rect class="kP" x="1355.6" width="183.1"/>
<rect class="kV" x="1658.6" width="97.2"/>
<rect class="kA" x="1790.3" width="171.3"/><rect class="kY" x="1961.6" width="11.8"/></g>
<g transform="translate(0,903.6)"><rect class="kG" x="1355.6" width="17.2"/><rect class="kO" x="1372.8" width="10.1"/><rect class="kB" x="1382.9" width="146.9"/><rect class="kR" x="1529.8" width="8.9"/>
<rect class="kG" x="1591.3" width="109.8"/><rect class="kA" x="1701.1" width="54.7"/>
<rect class="kB" x="1882.1" width="91.3"/></g>
<g transform="translate(0,925.9)"><rect class="kP" x="1355.6" width="183.1"/>
<rect class="kV" x="1715.4" width="40.4"/>
<rect class="kA" x="1790.3" width="143.1"/><rect class="kL" x="1933.4" width="20.2"/><rect class="kV" x="1953.6" width="19.8"/></g>
</g>

<!-- Legends -->
<g class="lg">
<text x="1384.5" y="983" font-size="20" fill="#111">Genus</text>
<rect class="kA" x="1384.5" y="997" width="7" height="14"/><text x="1403.7" y="1009.5">Acinetobacter</text>
<rect class="kE" x="1384.5" y="1013" width="7" height="14"/><text x="1403.7" y="1025.5">Enterobacter</text>
<rect class="kR" x="1384.5" y="1028.7" width="7" height="14"/><text x="1403.7" y="1041.2">Escherichia</text>
<rect class="kB" x="1384.5" y="1044" width="7" height="14"/><text x="1403.7" y="1056.5">Klebsiella</text>
<rect class="kO" x="1384.5" y="1059.7" width="7" height="14"/><text x="1403.7" y="1072.2">Providencia</text>
<rect class="kG" x="1384.5" y="1075.3" width="7" height="14"/><text x="1403.7" y="1087.8">Other</text>
<rect class="kP" x="1384.5" y="1090.7" width="7" height="14"/><text x="1403.7" y="1103.2">Pseudomonas</text>
<text x="1403.7" y="1119.5">Unknown</text>

<text x="1574.3" y="975" font-size="20" fill="#111">Plasmid Type</text>
<rect class="kV" x="1574.3" y="988" width="7.5" height="14"/><text x="1594" y="1000.5">&lt; 10kb plasmids</text>
<rect class="kA" x="1574.3" y="1003.8" width="7.5" height="14"/><text x="1594" y="1016.3">IncC</text>
<rect class="kL" x="1574.3" y="1019.6" width="7.5" height="14"/><text x="1594" y="1032.1">IncFIB/IncHI1B</text>
<rect class="kB" x="1574.3" y="1035.4" width="7.5" height="14"/><text x="1594" y="1047.9">IncFII/FI</text>
<rect class="kE" x="1574.3" y="1051.2" width="7.5" height="14"/><text x="1594" y="1063.7">IncHI2</text>
<rect class="kO" x="1574.3" y="1067" width="7.5" height="14"/><text x="1594" y="1079.5">IncN2</text>
<rect class="kY" x="1574.3" y="1082.8" width="7.5" height="14"/><text x="1594" y="1095.3">IncX3</text>
<rect class="kG" x="1574.3" y="1098.6" width="7.5" height="14"/><text x="1594" y="1111.1">Other plasmids</text>
<text x="1594" y="1126.9">Undefined sequences</text>

<text x="1788.6" y="971" font-size="20" fill="#111">Region</text>
<rect class="kE" x="1788.6" y="984.7" width="8" height="14"/><text x="1809" y="997.2">Africa</text>
<rect class="kV" x="1788.6" y="1000.4" width="8" height="14"/><text x="1809" y="1012.9">Central &amp; South America</text>
<rect class="kR" x="1788.6" y="1016" width="8" height="14"/><text x="1809" y="1028.5">East Asia</text>
<rect class="kB" x="1788.6" y="1031.7" width="8" height="14"/><text x="1809" y="1044.2">Europe</text>
<rect class="kY" x="1788.6" y="1047.4" width="8" height="14"/><text x="1809" y="1059.9">Middle East &amp; North Africa</text>
<rect class="kL" x="1788.6" y="1063" width="8" height="14"/><text x="1809" y="1075.5">North America</text>
<rect class="kN" x="1788.6" y="1078.7" width="8" height="14"/><text x="1809" y="1091.2">Oceania</text>
<rect class="kO" x="1788.6" y="1094.4" width="8" height="14"/><text x="1809" y="1106.9">South Asia</text>
<rect class="kA" x="1788.6" y="1110" width="8" height="14"/><text x="1809" y="1122.5">South East Asia</text>
<text x="1809" y="1138.2">Unknown</text>
</g>

<!-- Bottom panels: grid -->
<g fill="none" stroke="#E4E4E4" stroke-width="1.3" stroke-dasharray="7 5">
<path d="M402.9 972V1186M428.9 972V1186M454.8 972V1186M480.7 972V1186M506.6 972V1186M532.6 972V1186M558.5 972V1186M584.4 972V1186M610.3 972V1186M636.3 972V1186M662.2 972V1186M688.1 972V1186M714 972V1186M740 972V1186M765.9 972V1186M791.8 972V1186M817.7 972V1186M843.7 972V1186M869.6 972V1186M895.5 972V1186M921.4 972V1186M947.4 972V1186M973.3 972V1186M999.2 972V1186M1025.1 972V1186M1051.1 972V1186M1077 972V1186M1102.9 972V1186M1128.8 972V1186M1154.8 972V1186M1180.7 972V1186M1206.6 972V1186M1232.5 972V1186M1258.5 972V1186M1284.4 972V1186"/>
<path d="M376 983.5H1310M376 996.9H1310M376 1010.4H1310M376 1023.8H1310M376 1037.3H1310M376 1050.7H1310M376 1064.2H1310M376 1077.7H1310M376 1091.1H1310M376 1104.6H1310M376 1118H1310M376 1131.5H1310M376 1144.9H1310M376 1158.4H1310M376 1171.9H1310M376 1185.3H1310"/>
<path d="M402.9 1210V1427M428.9 1210V1427M454.8 1210V1427M480.7 1210V1427M506.6 1210V1427M532.6 1210V1427M558.5 1210V1427M584.4 1210V1427M610.3 1210V1427M636.3 1210V1427M662.2 1210V1427M688.1 1210V1427M714 1210V1427M740 1210V1427M765.9 1210V1427M791.8 1210V1427M817.7 1210V1427M843.7 1210V1427M869.6 1210V1427M895.5 1210V1427M921.4 1210V1427M947.4 1210V1427M973.3 1210V1427M999.2 1210V1427M1025.1 1210V1427M1051.1 1210V1427M1077 1210V1427M1102.9 1210V1427M1128.8 1210V1427M1154.8 1210V1427M1180.7 1210V1427M1206.6 1210V1427M1232.5 1210V1427M1258.5 1210V1427M1284.4 1210V1427"/>
<path d="M376 1218.9H1310M376 1230.1H1310M376 1241.3H1310M376 1252.5H1310M376 1263.7H1310M376 1274.9H1310M376 1286.1H1310M376 1297.3H1310M376 1308.5H1310M376 1319.8H1310M376 1331H1310M376 1342.2H1310M376 1353.4H1310M376 1364.6H1310M376 1375.8H1310M376 1387H1310M376 1398.2H1310M376 1409.4H1310M376 1420.6H1310"/>
</g>

<!-- Other structural variants area -->
<polygon fill="#B4B7B8" points="471.5,970 481.8,971.7 512.5,978.3 515.9,981.7 533,983.3 560.3,986.7 573.9,989.3 587.6,991.7 608,995 628.5,1003.3 642.1,1005 655.8,1008.3 669.4,1010 689.9,1015 710.4,1018.3 737.7,1021.7 765,1028.3 778.6,1035 805.9,1040 826.4,1041.7 853.7,1042.7 874.2,1046.7 901.5,1051.7 915.1,1058.3 942.4,1065 969.7,1073.3 997,1078.3 1010.7,1081.7 1017.5,1086.7 1038,1093.3 1065.2,1100 1106.2,1106.7 1133.5,1113.3 1150.5,1116.7 1160.8,1125 1174.4,1133.3 1201.7,1146.7 1229,1153.3 1242.7,1160 1256.3,1166.7 1276.8,1171.7 1298.6,1172.7 1302.7,1180 1305.5,1187.3 1310.9,1187.3 1310.9,970"/>
<!-- Contigs cutting short area -->
<polygon fill="#8A85B7" points="485.2,1207.7 498.8,1211.7 519.3,1213.3 533,1216.7 553.4,1221.7 587.6,1226.7 614.9,1230 642.1,1232.7 669.4,1235 686.5,1236.7 689.9,1243.3 696.7,1266.7 700.2,1281.7 703.6,1283.3 710.4,1296.7 717.2,1305 730.9,1310 751.3,1311.7 771.8,1315 785.5,1318.3 805.9,1319.3 833.2,1320 860.5,1322.7 887.8,1324 901.5,1325 904.9,1330 908.3,1343.3 921.9,1350 935.6,1351.7 956.1,1353.3 983.4,1356.7 1010.7,1360 1024.3,1363.3 1044.8,1367.3 1065.2,1371.7 1078.9,1373.3 1099.4,1376.7 1119.8,1379.3 1147.1,1381 1154,1383.3 1167.6,1390 1184.7,1401.7 1198.3,1410 1222.2,1415 1242.7,1418.3 1263.1,1420.7 1283.6,1421.7 1310.9,1426 1311,1427 1311,1207.7"/>

<!-- Bottom panel axes -->
<g stroke="#111" fill="none">
<path stroke-width="2.5" d="M374 970H1311.5M374 1207.7H1311.5"/>
<path stroke-width="1.3" d="M374.6 970V1187.5M374.6 1207.7V1427"/>
<path stroke-width="1.5" d="M377 964V970M428.9 964V970M480.7 964V970M532.6 964V970M584.4 964V970M636.3 964V970M688.1 964V970M740 964V970M791.8 964V970M843.7 964V970M895.5 964V970M947.4 964V970M999.2 964V970M1051.1 964V970M1102.9 964V970M1154.8 964V970M1206.6 964V970M1258.5 964V970M1310.3 964V970M377 1201.7V1207.7M428.9 1201.7V1207.7M480.7 1201.7V1207.7M532.6 1201.7V1207.7M584.4 1201.7V1207.7M636.3 1201.7V1207.7M688.1 1201.7V1207.7M740 1201.7V1207.7M791.8 1201.7V1207.7M843.7 1201.7V1207.7M895.5 1201.7V1207.7M947.4 1201.7V1207.7M999.2 1201.7V1207.7M1051.1 1201.7V1207.7M1102.9 1201.7V1207.7M1154.8 1201.7V1207.7M1206.6 1201.7V1207.7M1258.5 1201.7V1207.7M1310.3 1201.7V1207.7"/>
<path stroke-width="1.2" d="M371 970H374.6M371 996.9H374.6M371 1023.8H374.6M371 1050.7H374.6M371 1077.7H374.6M371 1104.6H374.6M371 1131.5H374.6M371 1158.4H374.6M371 1185.3H374.6M371 1207.7H374.6M371 1230.1H374.6M371 1252.5H374.6M371 1274.9H374.6M371 1297.3H374.6M371 1319.8H374.6M371 1342.2H374.6M371 1364.6H374.6M371 1387H374.6M371 1409.4H374.6"/>
</g>
<g font-size="15" fill="#222" text-anchor="end">
<text x="367" y="975">0</text><text x="367" y="1002">50</text><text x="367" y="1029">100</text><text x="367" y="1056">150</text><text x="367" y="1083">200</text><text x="367" y="1110">250</text><text x="367" y="1137">300</text><text x="367" y="1164">350</text><text x="367" y="1190">400</text>
<text x="367" y="1213">0</text><text x="367" y="1235">500</text><text x="367" y="1258">1000</text><text x="367" y="1280">1500</text><text x="367" y="1302">2000</text><text x="367" y="1325">2500</text><text x="367" y="1347">3000</text><text x="367" y="1370">3500</text><text x="367" y="1392">4000</text><text x="367" y="1414">4500</text>
</g>
<g font-size="19" fill="#111" text-anchor="middle">
<text transform="translate(305,1080) rotate(-90)"># Other Structural</text>
<text transform="translate(327,1080) rotate(-90)">Vatiants</text>
<text transform="translate(298,1317) rotate(-90)"># Contigs</text>
<text transform="translate(319,1317) rotate(-90)">Cutting Short</text>
</g>
</svg>
</body></html>
